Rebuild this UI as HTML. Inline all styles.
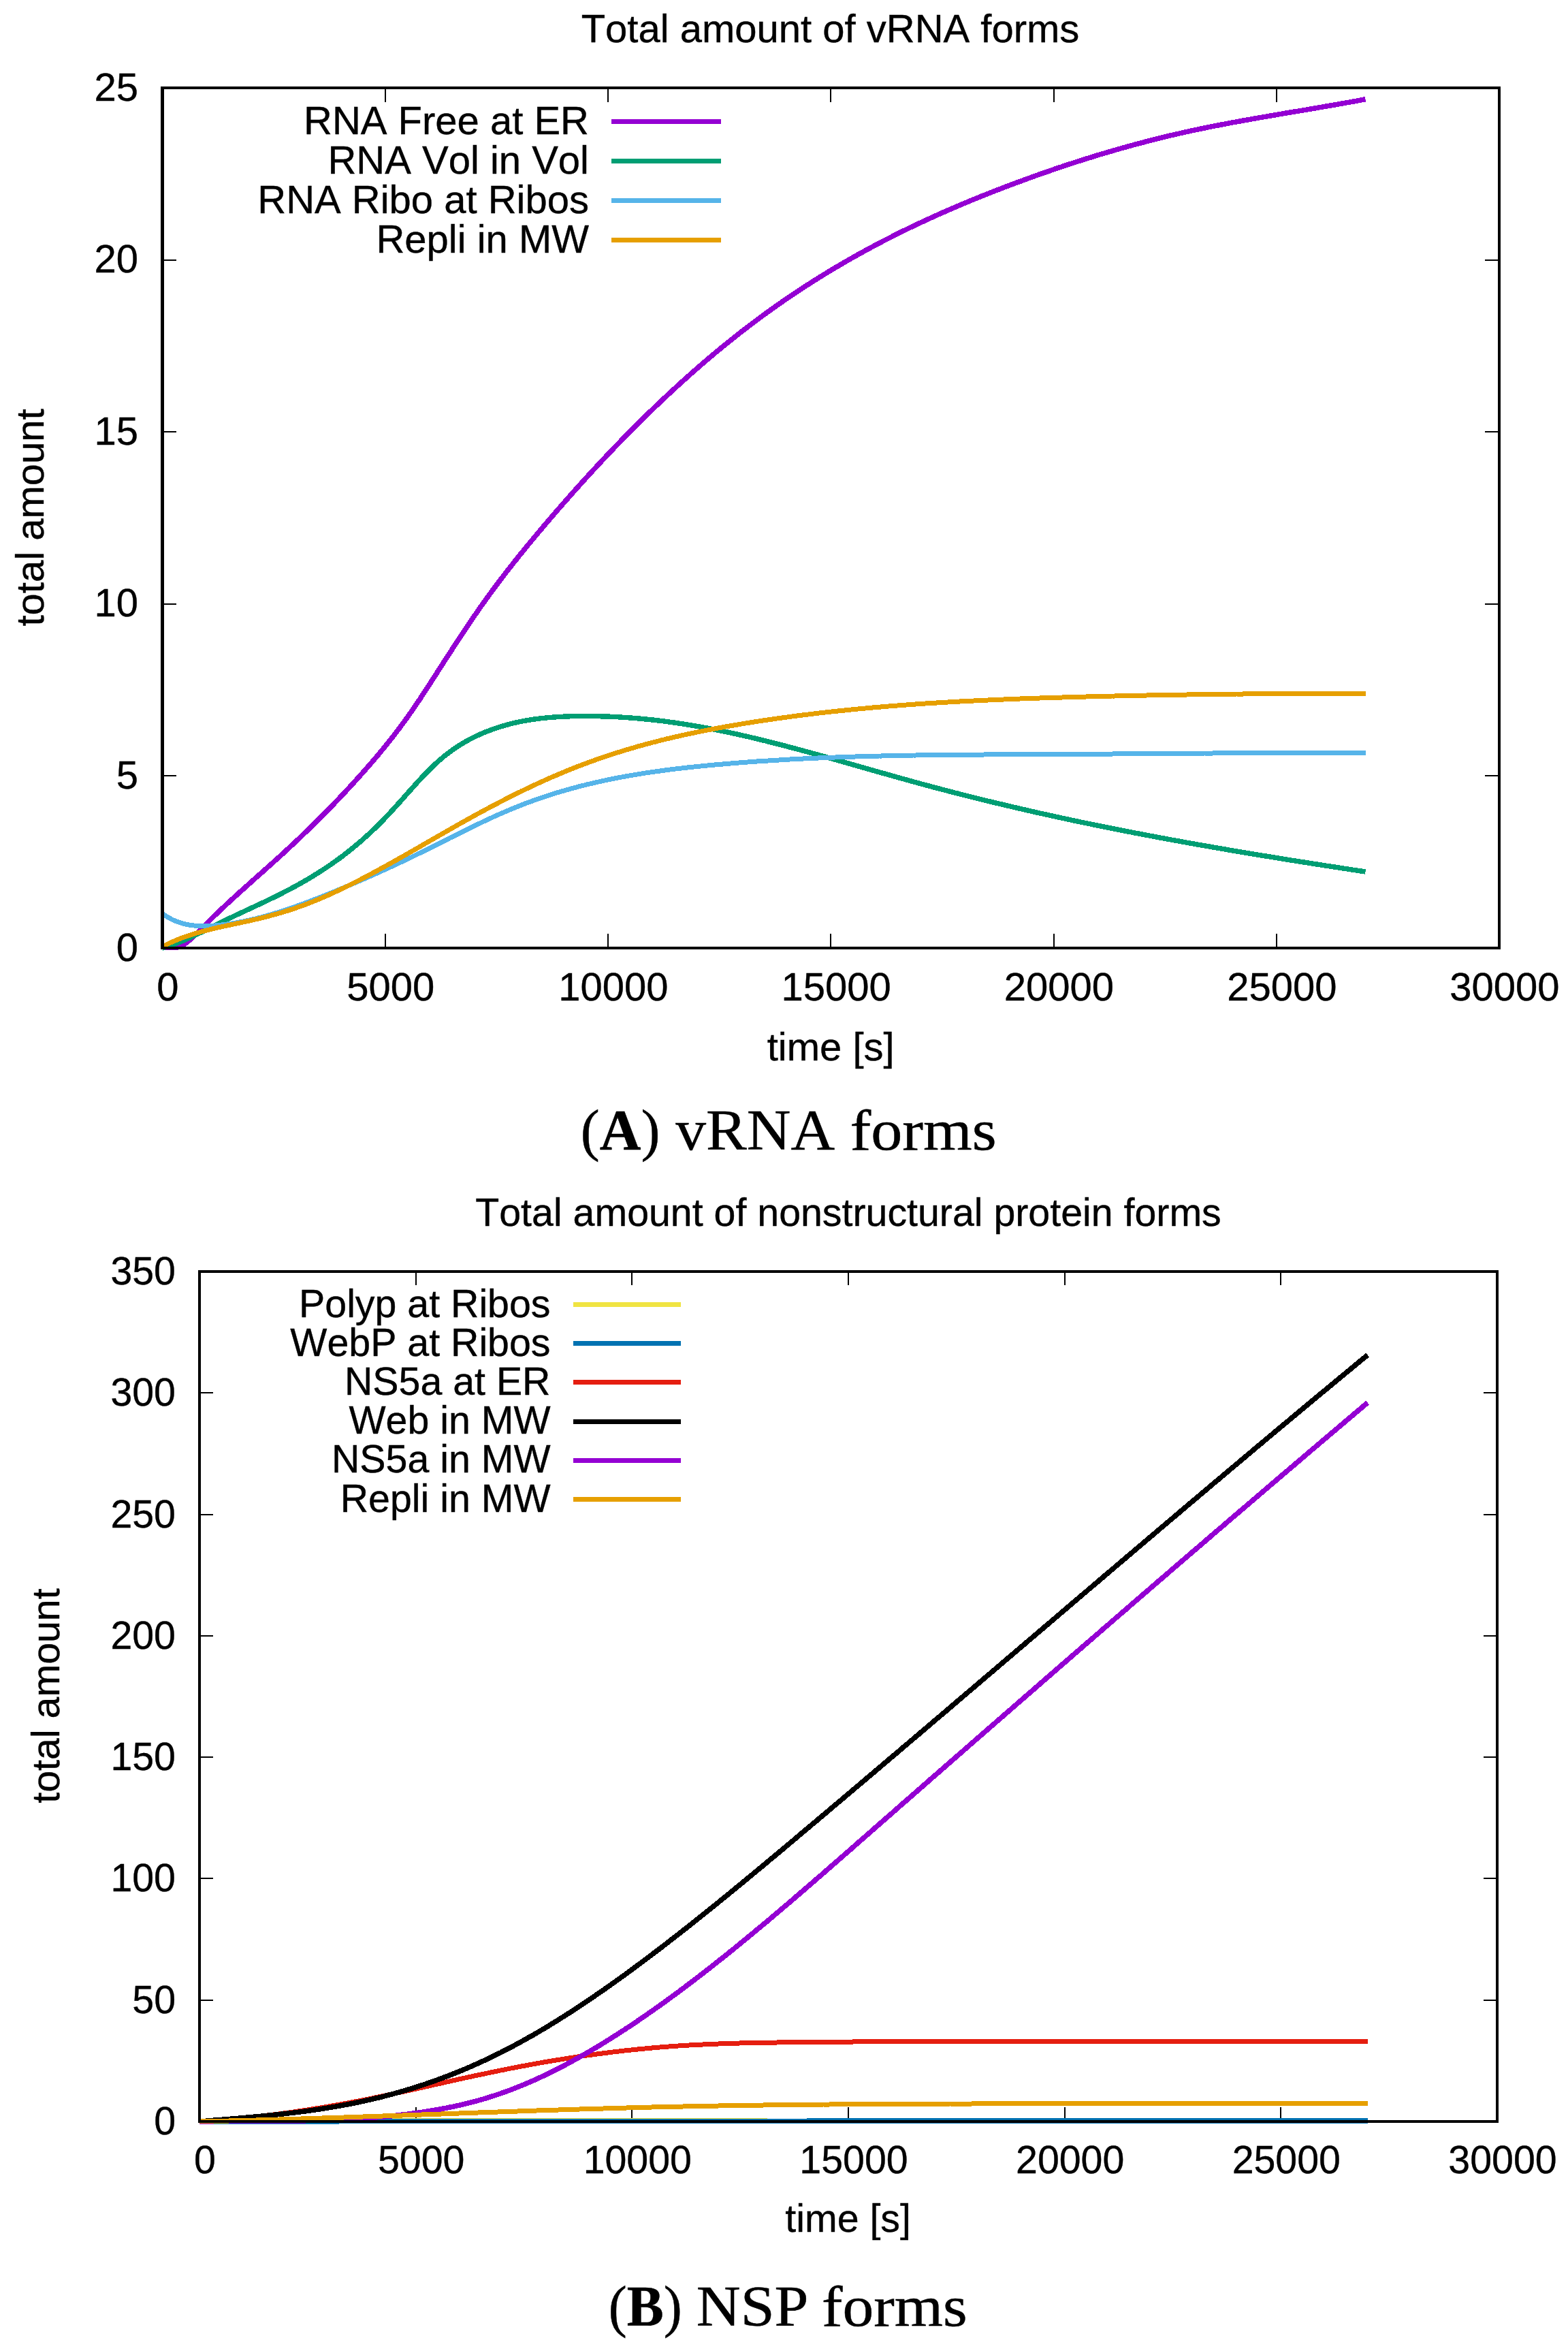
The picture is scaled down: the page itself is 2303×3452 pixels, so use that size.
<!DOCTYPE html>
<html lang="en"><head><meta charset="utf-8"><title>Total amount of vRNA and nonstructural protein forms</title>
<style>html,body{margin:0;padding:0;background:#fff}svg{display:block}text{font-family:"Liberation Sans",sans-serif;fill:#000;font-kerning:none;stroke:#000;stroke-width:.4px}.cap{font-family:"Liberation Serif",serif;font-kerning:none;stroke-width:.5px}.c{fill:none;stroke-linejoin:round;stroke-linecap:butt;shape-rendering:crispEdges}.t{stroke:#000;stroke-width:2;fill:none;shape-rendering:crispEdges}</style></head><body>
<svg width="2303" height="3452" viewBox="0 0 2303 3452">
<rect width="2303" height="3452" fill="#fff"/>
<g id="plotA">
<path class="t" d="M565.75,1392.0 V1371 M565.75,129.0 V150 M893.00,1392.0 V1371 M893.00,129.0 V150 M1220.25,1392.0 V1371 M1220.25,129.0 V150 M1547.50,1392.0 V1371 M1547.50,129.0 V150 M1874.75,1392.0 V1371 M1874.75,129.0 V150 M238.5,1139.40 H259 M2202.0,1139.40 H2181 M238.5,886.80 H259 M2202.0,886.80 H2181 M238.5,634.20 H259 M2202.0,634.20 H2181 M238.5,381.60 H259 M2202.0,381.60 H2181"/>
<path class="c" stroke="#9400D3" stroke-width="7.5" d="M238.5,1392.0 L241.4,1391.5 L244.4,1391.3 L247.3,1391.3 L250.3,1391.4 L253.2,1391.4 L256.2,1391.4 L259.1,1391.2 L262.1,1390.6 L265.0,1389.7 L268.0,1388.3 L270.9,1386.5 L273.9,1384.3 L276.8,1381.9 L279.8,1379.3 L282.7,1376.6 L285.7,1373.8 L288.6,1371.0 L291.6,1368.0 L294.5,1365.1 L297.5,1362.1 L300.4,1359.1 L303.4,1356.1 L306.3,1353.2 L309.3,1350.3 L312.2,1347.4 L315.2,1344.5 L318.1,1341.7 L321.1,1338.8 L324.0,1336.0 L327.0,1333.3 L329.9,1330.5 L332.9,1327.7 L335.8,1325.0 L338.8,1322.3 L341.7,1319.6 L344.7,1316.9 L347.6,1314.2 L350.6,1311.5 L353.5,1308.8 L356.5,1306.2 L359.4,1303.5 L362.4,1300.9 L365.3,1298.3 L368.3,1295.6 L371.2,1293.0 L374.2,1290.4 L377.1,1287.7 L380.1,1285.1 L383.0,1282.5 L386.0,1279.9 L388.9,1277.2 L391.9,1274.6 L394.8,1272.0 L397.8,1269.3 L400.7,1266.7 L403.7,1264.0 L406.6,1261.3 L409.6,1258.7 L412.5,1256.0 L415.5,1253.3 L418.4,1250.6 L421.4,1247.9 L424.3,1245.1 L427.3,1242.4 L430.2,1239.6 L433.2,1236.9 L436.1,1234.1 L439.1,1231.3 L442.0,1228.5 L445.0,1225.7 L447.9,1222.8 L450.9,1220.0 L453.8,1217.1 L456.8,1214.2 L459.7,1211.3 L462.7,1208.4 L465.6,1205.5 L468.6,1202.6 L471.5,1199.6 L474.5,1196.6 L477.4,1193.7 L480.4,1190.7 L483.3,1187.6 L486.3,1184.6 L489.2,1181.6 L492.2,1178.5 L495.1,1175.4 L498.1,1172.3 L501.0,1169.2 L504.0,1166.1 L506.9,1162.9 L509.9,1159.7 L512.8,1156.6 L515.8,1153.4 L518.7,1150.1 L521.7,1146.9 L524.6,1143.6 L527.6,1140.3 L530.5,1137.1 L533.5,1133.7 L536.4,1130.4 L539.4,1127.0 L542.3,1123.7 L545.3,1120.3 L548.2,1116.8 L551.2,1113.4 L554.1,1109.9 L557.1,1106.4 L560.0,1102.8 L563.0,1099.2 L565.9,1095.6 L568.9,1092.0 L571.8,1088.3 L574.8,1084.5 L577.7,1080.8 L580.7,1077.0 L583.6,1073.1 L586.6,1069.2 L589.5,1065.2 L592.5,1061.2 L595.4,1057.2 L598.4,1053.1 L601.3,1048.9 L604.3,1044.7 L607.2,1040.5 L610.2,1036.2 L613.1,1031.8 L616.1,1027.4 L619.0,1023.0 L622.0,1018.5 L624.9,1014.0 L627.9,1009.5 L630.8,1004.9 L633.8,1000.3 L636.7,995.8 L639.7,991.2 L642.6,986.6 L645.6,982.0 L648.5,977.4 L651.5,972.8 L654.4,968.3 L657.4,963.7 L660.3,959.1 L663.3,954.6 L666.2,950.1 L669.2,945.5 L672.1,941.0 L675.1,936.5 L678.0,932.1 L681.0,927.6 L683.9,923.2 L686.9,918.8 L689.8,914.4 L692.8,910.1 L695.7,905.8 L698.7,901.5 L701.6,897.2 L704.6,893.0 L707.5,888.8 L710.5,884.7 L713.4,880.6 L716.4,876.5 L719.3,872.4 L722.3,868.4 L725.2,864.4 L728.2,860.4 L731.1,856.5 L734.1,852.6 L737.0,848.7 L740.0,844.9 L742.9,841.0 L745.9,837.2 L748.8,833.5 L751.8,829.7 L754.7,826.0 L757.7,822.3 L760.6,818.6 L763.6,814.9 L766.5,811.3 L769.5,807.6 L772.4,804.0 L775.4,800.4 L778.3,796.8 L781.3,793.3 L784.2,789.7 L787.2,786.2 L790.1,782.7 L793.1,779.2 L796.0,775.7 L799.0,772.2 L801.9,768.7 L804.9,765.3 L807.8,761.8 L810.8,758.4 L813.7,754.9 L816.7,751.5 L819.6,748.1 L822.6,744.7 L825.5,741.3 L828.5,738.0 L831.4,734.6 L834.4,731.3 L837.3,727.9 L840.3,724.6 L843.2,721.3 L846.2,718.0 L849.1,714.7 L852.1,711.4 L855.0,708.2 L858.0,704.9 L860.9,701.7 L863.9,698.4 L866.8,695.2 L869.8,692.0 L872.7,688.8 L875.7,685.6 L878.6,682.4 L881.6,679.3 L884.5,676.1 L887.5,673.0 L890.4,669.9 L893.4,666.7 L896.3,663.6 L899.3,660.5 L902.2,657.5 L905.2,654.4 L908.1,651.3 L911.1,648.3 L914.0,645.2 L917.0,642.2 L919.9,639.2 L922.9,636.2 L925.8,633.2 L928.8,630.3 L931.7,627.3 L934.7,624.3 L937.6,621.4 L940.6,618.5 L943.5,615.6 L946.5,612.7 L949.4,609.8 L952.4,606.9 L955.3,604.0 L958.3,601.2 L961.2,598.3 L964.2,595.5 L967.1,592.7 L970.1,589.9 L973.0,587.1 L976.0,584.3 L978.9,581.5 L981.9,578.8 L984.8,576.0 L987.8,573.3 L990.7,570.6 L993.7,567.9 L996.6,565.2 L999.6,562.5 L1002.5,559.8 L1005.5,557.2 L1008.4,554.5 L1011.4,551.9 L1014.3,549.3 L1017.3,546.7 L1020.2,544.1 L1023.2,541.5 L1026.1,538.9 L1029.1,536.3 L1032.0,533.8 L1035.0,531.3 L1037.9,528.7 L1040.9,526.2 L1043.8,523.7 L1046.8,521.3 L1049.7,518.8 L1052.7,516.3 L1055.6,513.9 L1058.6,511.5 L1061.5,509.0 L1064.5,506.6 L1067.4,504.2 L1070.4,501.9 L1073.3,499.5 L1076.3,497.1 L1079.2,494.8 L1082.2,492.5 L1085.1,490.1 L1088.1,487.8 L1091.0,485.5 L1094.0,483.3 L1096.9,481.0 L1099.9,478.7 L1102.8,476.5 L1105.8,474.3 L1108.7,472.1 L1111.7,469.9 L1114.6,467.7 L1117.6,465.5 L1120.5,463.3 L1123.5,461.2 L1126.4,459.0 L1129.4,456.9 L1132.3,454.8 L1135.3,452.7 L1138.2,450.6 L1141.2,448.5 L1144.1,446.4 L1147.1,444.4 L1150.0,442.3 L1153.0,440.3 L1155.9,438.3 L1158.9,436.3 L1161.8,434.3 L1164.8,432.3 L1167.7,430.3 L1170.7,428.4 L1173.6,426.4 L1176.6,424.5 L1179.5,422.5 L1182.5,420.6 L1185.4,418.7 L1188.4,416.8 L1191.3,414.9 L1194.3,413.1 L1197.2,411.2 L1200.2,409.3 L1203.1,407.5 L1206.1,405.7 L1209.0,403.8 L1212.0,402.0 L1214.9,400.2 L1217.9,398.4 L1220.8,396.7 L1223.8,394.9 L1226.7,393.1 L1229.7,391.4 L1232.6,389.7 L1235.6,387.9 L1238.5,386.2 L1241.5,384.5 L1244.4,382.8 L1247.4,381.1 L1250.3,379.4 L1253.3,377.8 L1256.2,376.1 L1259.2,374.4 L1262.1,372.8 L1265.1,371.2 L1268.0,369.5 L1271.0,367.9 L1273.9,366.3 L1276.9,364.7 L1279.8,363.1 L1282.8,361.6 L1285.7,360.0 L1288.7,358.4 L1291.6,356.9 L1294.6,355.3 L1297.5,353.8 L1300.5,352.3 L1303.4,350.8 L1306.4,349.3 L1309.3,347.8 L1312.3,346.3 L1315.2,344.8 L1318.2,343.3 L1321.1,341.8 L1324.1,340.4 L1327.0,338.9 L1330.0,337.5 L1332.9,336.1 L1335.9,334.6 L1338.8,333.2 L1341.8,331.8 L1344.7,330.4 L1347.7,329.0 L1350.6,327.6 L1353.6,326.2 L1356.5,324.9 L1359.5,323.5 L1362.4,322.1 L1365.4,320.8 L1368.3,319.4 L1371.3,318.1 L1374.2,316.8 L1377.2,315.4 L1380.1,314.1 L1383.1,312.8 L1386.0,311.5 L1389.0,310.2 L1391.9,308.9 L1394.9,307.6 L1397.8,306.4 L1400.8,305.1 L1403.7,303.8 L1406.7,302.6 L1409.6,301.3 L1412.6,300.1 L1415.5,298.8 L1418.5,297.6 L1421.4,296.4 L1424.4,295.1 L1427.3,293.9 L1430.3,292.7 L1433.2,291.5 L1436.2,290.3 L1439.1,289.1 L1442.1,287.9 L1445.0,286.8 L1448.0,285.6 L1450.9,284.4 L1453.9,283.2 L1456.8,282.1 L1459.8,280.9 L1462.7,279.8 L1465.7,278.6 L1468.6,277.5 L1471.6,276.4 L1474.5,275.2 L1477.5,274.1 L1480.4,273.0 L1483.4,271.9 L1486.3,270.8 L1489.3,269.7 L1492.2,268.6 L1495.2,267.5 L1498.1,266.4 L1501.1,265.3 L1504.0,264.2 L1507.0,263.1 L1509.9,262.0 L1512.9,261.0 L1515.8,259.9 L1518.8,258.9 L1521.7,257.8 L1524.7,256.8 L1527.6,255.7 L1530.6,254.7 L1533.5,253.6 L1536.5,252.6 L1539.4,251.6 L1542.4,250.6 L1545.3,249.6 L1548.3,248.5 L1551.2,247.5 L1554.2,246.5 L1557.1,245.6 L1560.1,244.6 L1563.0,243.6 L1566.0,242.6 L1568.9,241.6 L1571.9,240.7 L1574.8,239.7 L1577.8,238.7 L1580.7,237.8 L1583.7,236.8 L1586.6,235.9 L1589.6,235.0 L1592.5,234.0 L1595.5,233.1 L1598.4,232.2 L1601.4,231.3 L1604.3,230.3 L1607.3,229.4 L1610.2,228.5 L1613.2,227.6 L1616.1,226.7 L1619.1,225.9 L1622.0,225.0 L1625.0,224.1 L1627.9,223.2 L1630.9,222.4 L1633.8,221.5 L1636.8,220.7 L1639.7,219.8 L1642.7,219.0 L1645.6,218.1 L1648.6,217.3 L1651.5,216.5 L1654.5,215.6 L1657.4,214.8 L1660.4,214.0 L1663.3,213.2 L1666.3,212.4 L1669.2,211.6 L1672.2,210.8 L1675.1,210.0 L1678.1,209.3 L1681.0,208.5 L1684.0,207.7 L1686.9,207.0 L1689.9,206.2 L1692.8,205.4 L1695.8,204.7 L1698.7,204.0 L1701.7,203.2 L1704.6,202.5 L1707.6,201.8 L1710.5,201.1 L1713.5,200.3 L1716.4,199.6 L1719.4,198.9 L1722.3,198.2 L1725.3,197.6 L1728.2,196.9 L1731.2,196.2 L1734.1,195.5 L1737.1,194.9 L1740.0,194.2 L1743.0,193.5 L1745.9,192.9 L1748.9,192.2 L1751.8,191.6 L1754.8,191.0 L1757.7,190.3 L1760.7,189.7 L1763.6,189.1 L1766.6,188.5 L1769.5,187.9 L1772.5,187.3 L1775.4,186.7 L1778.4,186.1 L1781.3,185.5 L1784.3,184.9 L1787.2,184.3 L1790.2,183.8 L1793.1,183.2 L1796.1,182.6 L1799.0,182.1 L1802.0,181.5 L1804.9,180.9 L1807.9,180.4 L1810.8,179.8 L1813.8,179.3 L1816.7,178.7 L1819.7,178.2 L1822.6,177.7 L1825.6,177.1 L1828.5,176.6 L1831.5,176.1 L1834.4,175.5 L1837.4,175.0 L1840.3,174.5 L1843.3,174.0 L1846.2,173.4 L1849.2,172.9 L1852.1,172.4 L1855.1,171.9 L1858.0,171.4 L1861.0,170.9 L1863.9,170.4 L1866.9,169.9 L1869.8,169.4 L1872.8,168.9 L1875.7,168.3 L1878.7,167.8 L1881.6,167.3 L1884.6,166.8 L1887.5,166.3 L1890.5,165.8 L1893.4,165.3 L1896.4,164.8 L1899.3,164.3 L1902.3,163.8 L1905.2,163.4 L1908.2,162.9 L1911.1,162.4 L1914.1,161.9 L1917.0,161.4 L1920.0,160.9 L1922.9,160.4 L1925.9,159.9 L1928.8,159.4 L1931.8,158.9 L1934.7,158.3 L1937.7,157.8 L1940.6,157.3 L1943.6,156.8 L1946.5,156.3 L1949.5,155.8 L1952.4,155.3 L1955.4,154.8 L1958.3,154.3 L1961.3,153.8 L1964.2,153.2 L1967.2,152.7 L1970.1,152.2 L1973.1,151.7 L1976.0,151.1 L1979.0,150.6 L1981.9,150.1 L1984.9,149.5 L1987.8,149.0 L1990.8,148.5 L1993.7,147.9 L1996.7,147.4 L1999.6,146.8 L2002.6,146.3 L2005.5,145.7"/>
<path class="c" stroke="#009E73" stroke-width="7.4" d="M238.5,1392.0 L241.4,1391.2 L244.4,1390.3 L247.3,1389.3 L250.3,1388.3 L253.2,1387.3 L256.2,1386.2 L259.1,1385.1 L262.1,1384.0 L265.0,1382.8 L268.0,1381.6 L270.9,1380.3 L273.9,1379.0 L276.8,1377.7 L279.8,1376.4 L282.7,1375.0 L285.7,1373.6 L288.6,1372.2 L291.6,1370.8 L294.5,1369.4 L297.5,1368.0 L300.4,1366.5 L303.4,1365.0 L306.3,1363.6 L309.3,1362.1 L312.2,1360.6 L315.2,1359.1 L318.1,1357.7 L321.1,1356.2 L324.0,1354.7 L327.0,1353.3 L329.9,1351.8 L332.9,1350.4 L335.8,1348.9 L338.8,1347.5 L341.7,1346.1 L344.7,1344.7 L347.6,1343.3 L350.6,1341.9 L353.5,1340.5 L356.5,1339.2 L359.4,1337.8 L362.4,1336.4 L365.3,1335.0 L368.3,1333.7 L371.2,1332.3 L374.2,1330.9 L377.1,1329.5 L380.1,1328.2 L383.0,1326.8 L386.0,1325.4 L388.9,1324.0 L391.9,1322.6 L394.8,1321.2 L397.8,1319.7 L400.7,1318.3 L403.7,1316.9 L406.6,1315.4 L409.6,1313.9 L412.5,1312.4 L415.5,1310.9 L418.4,1309.4 L421.4,1307.9 L424.3,1306.4 L427.3,1304.8 L430.2,1303.2 L433.2,1301.6 L436.1,1300.0 L439.1,1298.4 L442.0,1296.7 L445.0,1295.0 L447.9,1293.3 L450.9,1291.6 L453.8,1289.9 L456.8,1288.1 L459.7,1286.3 L462.7,1284.5 L465.6,1282.7 L468.6,1280.8 L471.5,1278.9 L474.5,1277.0 L477.4,1275.1 L480.4,1273.1 L483.3,1271.1 L486.3,1269.1 L489.2,1267.0 L492.2,1264.9 L495.1,1262.8 L498.1,1260.7 L501.0,1258.5 L504.0,1256.3 L506.9,1254.0 L509.9,1251.7 L512.8,1249.4 L515.8,1247.0 L518.7,1244.6 L521.7,1242.2 L524.6,1239.7 L527.6,1237.2 L530.5,1234.7 L533.5,1232.1 L536.4,1229.4 L539.4,1226.8 L542.3,1224.1 L545.3,1221.3 L548.2,1218.5 L551.2,1215.7 L554.1,1212.8 L557.1,1209.9 L560.0,1206.9 L563.0,1203.9 L565.9,1200.8 L568.9,1197.7 L571.8,1194.6 L574.8,1191.4 L577.7,1188.2 L580.7,1184.9 L583.6,1181.7 L586.6,1178.4 L589.5,1175.1 L592.5,1171.8 L595.4,1168.4 L598.4,1165.1 L601.3,1161.8 L604.3,1158.5 L607.2,1155.2 L610.2,1151.9 L613.1,1148.6 L616.1,1145.4 L619.0,1142.2 L622.0,1139.1 L624.9,1136.0 L627.9,1133.0 L630.8,1130.0 L633.8,1127.1 L636.7,1124.2 L639.7,1121.5 L642.6,1118.8 L645.6,1116.2 L648.5,1113.7 L651.5,1111.2 L654.4,1108.8 L657.4,1106.5 L660.3,1104.3 L663.3,1102.1 L666.2,1100.1 L669.2,1098.0 L672.1,1096.1 L675.1,1094.2 L678.0,1092.3 L681.0,1090.6 L683.9,1088.9 L686.9,1087.2 L689.8,1085.6 L692.8,1084.1 L695.7,1082.6 L698.7,1081.1 L701.6,1079.8 L704.6,1078.4 L707.5,1077.1 L710.5,1075.9 L713.4,1074.7 L716.4,1073.5 L719.3,1072.4 L722.3,1071.3 L725.2,1070.2 L728.2,1069.2 L731.1,1068.2 L734.1,1067.3 L737.0,1066.4 L740.0,1065.5 L742.9,1064.7 L745.9,1063.9 L748.8,1063.1 L751.8,1062.3 L754.7,1061.6 L757.7,1060.9 L760.6,1060.3 L763.6,1059.7 L766.5,1059.1 L769.5,1058.5 L772.4,1058.0 L775.4,1057.5 L778.3,1057.0 L781.3,1056.5 L784.2,1056.1 L787.2,1055.7 L790.1,1055.3 L793.1,1054.9 L796.0,1054.6 L799.0,1054.3 L801.9,1054.0 L804.9,1053.7 L807.8,1053.4 L810.8,1053.2 L813.7,1053.0 L816.7,1052.8 L819.6,1052.6 L822.6,1052.4 L825.5,1052.3 L828.5,1052.1 L831.4,1052.0 L834.4,1051.9 L837.3,1051.8 L840.3,1051.7 L843.2,1051.6 L846.2,1051.6 L849.1,1051.6 L852.1,1051.5 L855.0,1051.5 L858.0,1051.5 L860.9,1051.5 L863.9,1051.5 L866.8,1051.5 L869.8,1051.5 L872.7,1051.6 L875.7,1051.6 L878.6,1051.7 L881.6,1051.8 L884.5,1051.8 L887.5,1051.9 L890.4,1052.0 L893.4,1052.1 L896.3,1052.2 L899.3,1052.4 L902.2,1052.5 L905.2,1052.7 L908.1,1052.8 L911.1,1053.0 L914.0,1053.2 L917.0,1053.4 L919.9,1053.6 L922.9,1053.8 L925.8,1054.0 L928.8,1054.2 L931.7,1054.4 L934.7,1054.7 L937.6,1054.9 L940.6,1055.2 L943.5,1055.5 L946.5,1055.8 L949.4,1056.1 L952.4,1056.4 L955.3,1056.7 L958.3,1057.0 L961.2,1057.3 L964.2,1057.7 L967.1,1058.0 L970.1,1058.4 L973.0,1058.7 L976.0,1059.1 L978.9,1059.5 L981.9,1059.9 L984.8,1060.3 L987.8,1060.7 L990.7,1061.1 L993.7,1061.5 L996.6,1062.0 L999.6,1062.4 L1002.5,1062.9 L1005.5,1063.3 L1008.4,1063.8 L1011.4,1064.3 L1014.3,1064.8 L1017.3,1065.3 L1020.2,1065.8 L1023.2,1066.3 L1026.1,1066.8 L1029.1,1067.3 L1032.0,1067.8 L1035.0,1068.4 L1037.9,1068.9 L1040.9,1069.5 L1043.8,1070.1 L1046.8,1070.6 L1049.7,1071.2 L1052.7,1071.8 L1055.6,1072.4 L1058.6,1073.0 L1061.5,1073.6 L1064.5,1074.2 L1067.4,1074.8 L1070.4,1075.5 L1073.3,1076.1 L1076.3,1076.7 L1079.2,1077.4 L1082.2,1078.0 L1085.1,1078.7 L1088.1,1079.3 L1091.0,1080.0 L1094.0,1080.7 L1096.9,1081.4 L1099.9,1082.0 L1102.8,1082.7 L1105.8,1083.4 L1108.7,1084.1 L1111.7,1084.8 L1114.6,1085.6 L1117.6,1086.3 L1120.5,1087.0 L1123.5,1087.7 L1126.4,1088.4 L1129.4,1089.2 L1132.3,1089.9 L1135.3,1090.7 L1138.2,1091.4 L1141.2,1092.2 L1144.1,1092.9 L1147.1,1093.7 L1150.0,1094.4 L1153.0,1095.2 L1155.9,1096.0 L1158.9,1096.8 L1161.8,1097.5 L1164.8,1098.3 L1167.7,1099.1 L1170.7,1099.9 L1173.6,1100.7 L1176.6,1101.5 L1179.5,1102.3 L1182.5,1103.1 L1185.4,1103.9 L1188.4,1104.7 L1191.3,1105.5 L1194.3,1106.3 L1197.2,1107.1 L1200.2,1107.9 L1203.1,1108.8 L1206.1,1109.6 L1209.0,1110.4 L1212.0,1111.2 L1214.9,1112.0 L1217.9,1112.9 L1220.8,1113.7 L1223.8,1114.5 L1226.7,1115.4 L1229.7,1116.2 L1232.6,1117.0 L1235.6,1117.9 L1238.5,1118.7 L1241.5,1119.5 L1244.4,1120.4 L1247.4,1121.2 L1250.3,1122.1 L1253.3,1122.9 L1256.2,1123.7 L1259.2,1124.6 L1262.1,1125.4 L1265.1,1126.3 L1268.0,1127.1 L1271.0,1128.0 L1273.9,1128.8 L1276.9,1129.6 L1279.8,1130.5 L1282.8,1131.3 L1285.7,1132.2 L1288.7,1133.0 L1291.6,1133.8 L1294.6,1134.7 L1297.5,1135.5 L1300.5,1136.3 L1303.4,1137.2 L1306.4,1138.0 L1309.3,1138.8 L1312.3,1139.7 L1315.2,1140.5 L1318.2,1141.3 L1321.1,1142.2 L1324.1,1143.0 L1327.0,1143.8 L1330.0,1144.6 L1332.9,1145.5 L1335.9,1146.3 L1338.8,1147.1 L1341.8,1147.9 L1344.7,1148.7 L1347.7,1149.5 L1350.6,1150.3 L1353.6,1151.1 L1356.5,1151.9 L1359.5,1152.7 L1362.4,1153.5 L1365.4,1154.3 L1368.3,1155.1 L1371.3,1155.9 L1374.2,1156.7 L1377.2,1157.4 L1380.1,1158.2 L1383.1,1159.0 L1386.0,1159.8 L1389.0,1160.5 L1391.9,1161.3 L1394.9,1162.1 L1397.8,1162.8 L1400.8,1163.6 L1403.7,1164.4 L1406.7,1165.1 L1409.6,1165.9 L1412.6,1166.6 L1415.5,1167.4 L1418.5,1168.1 L1421.4,1168.9 L1424.4,1169.6 L1427.3,1170.3 L1430.3,1171.1 L1433.2,1171.8 L1436.2,1172.5 L1439.1,1173.3 L1442.1,1174.0 L1445.0,1174.7 L1448.0,1175.5 L1450.9,1176.2 L1453.9,1176.9 L1456.8,1177.6 L1459.8,1178.3 L1462.7,1179.0 L1465.7,1179.7 L1468.6,1180.4 L1471.6,1181.1 L1474.5,1181.8 L1477.5,1182.5 L1480.4,1183.2 L1483.4,1183.9 L1486.3,1184.6 L1489.3,1185.3 L1492.2,1186.0 L1495.2,1186.7 L1498.1,1187.4 L1501.1,1188.0 L1504.0,1188.7 L1507.0,1189.4 L1509.9,1190.1 L1512.9,1190.7 L1515.8,1191.4 L1518.8,1192.1 L1521.7,1192.8 L1524.7,1193.4 L1527.6,1194.1 L1530.6,1194.7 L1533.5,1195.4 L1536.5,1196.0 L1539.4,1196.7 L1542.4,1197.3 L1545.3,1198.0 L1548.3,1198.6 L1551.2,1199.3 L1554.2,1199.9 L1557.1,1200.6 L1560.1,1201.2 L1563.0,1201.8 L1566.0,1202.5 L1568.9,1203.1 L1571.9,1203.7 L1574.8,1204.4 L1577.8,1205.0 L1580.7,1205.6 L1583.7,1206.2 L1586.6,1206.9 L1589.6,1207.5 L1592.5,1208.1 L1595.5,1208.7 L1598.4,1209.3 L1601.4,1209.9 L1604.3,1210.5 L1607.3,1211.1 L1610.2,1211.7 L1613.2,1212.3 L1616.1,1212.9 L1619.1,1213.5 L1622.0,1214.1 L1625.0,1214.7 L1627.9,1215.3 L1630.9,1215.9 L1633.8,1216.5 L1636.8,1217.1 L1639.7,1217.7 L1642.7,1218.3 L1645.6,1218.9 L1648.6,1219.4 L1651.5,1220.0 L1654.5,1220.6 L1657.4,1221.2 L1660.4,1221.7 L1663.3,1222.3 L1666.3,1222.9 L1669.2,1223.5 L1672.2,1224.0 L1675.1,1224.6 L1678.1,1225.1 L1681.0,1225.7 L1684.0,1226.3 L1686.9,1226.8 L1689.9,1227.4 L1692.8,1227.9 L1695.8,1228.5 L1698.7,1229.1 L1701.7,1229.6 L1704.6,1230.2 L1707.6,1230.7 L1710.5,1231.2 L1713.5,1231.8 L1716.4,1232.3 L1719.4,1232.9 L1722.3,1233.4 L1725.3,1234.0 L1728.2,1234.5 L1731.2,1235.0 L1734.1,1235.6 L1737.1,1236.1 L1740.0,1236.6 L1743.0,1237.2 L1745.9,1237.7 L1748.9,1238.2 L1751.8,1238.7 L1754.8,1239.3 L1757.7,1239.8 L1760.7,1240.3 L1763.6,1240.8 L1766.6,1241.4 L1769.5,1241.9 L1772.5,1242.4 L1775.4,1242.9 L1778.4,1243.4 L1781.3,1243.9 L1784.3,1244.4 L1787.2,1245.0 L1790.2,1245.5 L1793.1,1246.0 L1796.1,1246.5 L1799.0,1247.0 L1802.0,1247.5 L1804.9,1248.0 L1807.9,1248.5 L1810.8,1249.0 L1813.8,1249.5 L1816.7,1250.0 L1819.7,1250.5 L1822.6,1251.0 L1825.6,1251.5 L1828.5,1252.0 L1831.5,1252.5 L1834.4,1253.0 L1837.4,1253.5 L1840.3,1253.9 L1843.3,1254.4 L1846.2,1254.9 L1849.2,1255.4 L1852.1,1255.9 L1855.1,1256.4 L1858.0,1256.9 L1861.0,1257.3 L1863.9,1257.8 L1866.9,1258.3 L1869.8,1258.8 L1872.8,1259.3 L1875.7,1259.7 L1878.7,1260.2 L1881.6,1260.7 L1884.6,1261.2 L1887.5,1261.7 L1890.5,1262.1 L1893.4,1262.6 L1896.4,1263.1 L1899.3,1263.5 L1902.3,1264.0 L1905.2,1264.5 L1908.2,1264.9 L1911.1,1265.4 L1914.1,1265.9 L1917.0,1266.3 L1920.0,1266.8 L1922.9,1267.3 L1925.9,1267.7 L1928.8,1268.2 L1931.8,1268.7 L1934.7,1269.1 L1937.7,1269.6 L1940.6,1270.0 L1943.6,1270.5 L1946.5,1271.0 L1949.5,1271.4 L1952.4,1271.9 L1955.4,1272.3 L1958.3,1272.8 L1961.3,1273.2 L1964.2,1273.7 L1967.2,1274.2 L1970.1,1274.6 L1973.1,1275.1 L1976.0,1275.5 L1979.0,1276.0 L1981.9,1276.4 L1984.9,1276.9 L1987.8,1277.3 L1990.8,1277.8 L1993.7,1278.2 L1996.7,1278.7 L1999.6,1279.1 L2002.6,1279.6 L2005.5,1280.0"/>
<path class="c" stroke="#56B4E9" stroke-width="7" d="M238.5,1341.5 L241.4,1343.6 L244.4,1345.5 L247.3,1347.2 L250.3,1348.8 L253.2,1350.3 L256.2,1351.7 L259.1,1352.9 L262.1,1354.0 L265.0,1355.0 L268.0,1355.9 L270.9,1356.7 L273.9,1357.4 L276.8,1357.9 L279.8,1358.4 L282.7,1358.8 L285.7,1359.1 L288.6,1359.4 L291.6,1359.6 L294.5,1359.7 L297.5,1359.7 L300.4,1359.7 L303.4,1359.6 L306.3,1359.5 L309.3,1359.4 L312.2,1359.2 L315.2,1359.0 L318.1,1358.7 L321.1,1358.4 L324.0,1358.1 L327.0,1357.8 L329.9,1357.4 L332.9,1357.1 L335.8,1356.6 L338.8,1356.2 L341.7,1355.8 L344.7,1355.3 L347.6,1354.8 L350.6,1354.2 L353.5,1353.7 L356.5,1353.1 L359.4,1352.5 L362.4,1351.9 L365.3,1351.2 L368.3,1350.6 L371.2,1349.9 L374.2,1349.2 L377.1,1348.5 L380.1,1347.7 L383.0,1347.0 L386.0,1346.2 L388.9,1345.4 L391.9,1344.5 L394.8,1343.7 L397.8,1342.9 L400.7,1342.0 L403.7,1341.1 L406.6,1340.2 L409.6,1339.3 L412.5,1338.3 L415.5,1337.4 L418.4,1336.4 L421.4,1335.4 L424.3,1334.4 L427.3,1333.4 L430.2,1332.4 L433.2,1331.4 L436.1,1330.3 L439.1,1329.3 L442.0,1328.2 L445.0,1327.1 L447.9,1326.0 L450.9,1324.9 L453.8,1323.8 L456.8,1322.7 L459.7,1321.6 L462.7,1320.4 L465.6,1319.3 L468.6,1318.1 L471.5,1317.0 L474.5,1315.8 L477.4,1314.6 L480.4,1313.4 L483.3,1312.2 L486.3,1311.0 L489.2,1309.8 L492.2,1308.6 L495.1,1307.4 L498.1,1306.2 L501.0,1304.9 L504.0,1303.7 L506.9,1302.5 L509.9,1301.2 L512.8,1300.0 L515.8,1298.7 L518.7,1297.4 L521.7,1296.2 L524.6,1294.9 L527.6,1293.6 L530.5,1292.3 L533.5,1291.0 L536.4,1289.8 L539.4,1288.5 L542.3,1287.1 L545.3,1285.8 L548.2,1284.5 L551.2,1283.2 L554.1,1281.9 L557.1,1280.5 L560.0,1279.2 L563.0,1277.9 L565.9,1276.5 L568.9,1275.2 L571.8,1273.8 L574.8,1272.5 L577.7,1271.1 L580.7,1269.7 L583.6,1268.4 L586.6,1267.0 L589.5,1265.6 L592.5,1264.2 L595.4,1262.8 L598.4,1261.4 L601.3,1260.0 L604.3,1258.6 L607.2,1257.2 L610.2,1255.7 L613.1,1254.3 L616.1,1252.8 L619.0,1251.4 L622.0,1249.9 L624.9,1248.5 L627.9,1247.0 L630.8,1245.5 L633.8,1244.1 L636.7,1242.6 L639.7,1241.1 L642.6,1239.6 L645.6,1238.1 L648.5,1236.7 L651.5,1235.2 L654.4,1233.7 L657.4,1232.2 L660.3,1230.7 L663.3,1229.2 L666.2,1227.8 L669.2,1226.3 L672.1,1224.8 L675.1,1223.3 L678.0,1221.9 L681.0,1220.4 L683.9,1218.9 L686.9,1217.5 L689.8,1216.0 L692.8,1214.6 L695.7,1213.2 L698.7,1211.7 L701.6,1210.3 L704.6,1208.9 L707.5,1207.5 L710.5,1206.1 L713.4,1204.7 L716.4,1203.3 L719.3,1201.9 L722.3,1200.6 L725.2,1199.2 L728.2,1197.9 L731.1,1196.6 L734.1,1195.3 L737.0,1194.0 L740.0,1192.7 L742.9,1191.4 L745.9,1190.2 L748.8,1188.9 L751.8,1187.7 L754.7,1186.5 L757.7,1185.3 L760.6,1184.1 L763.6,1182.9 L766.5,1181.8 L769.5,1180.7 L772.4,1179.5 L775.4,1178.4 L778.3,1177.4 L781.3,1176.3 L784.2,1175.2 L787.2,1174.2 L790.1,1173.1 L793.1,1172.1 L796.0,1171.1 L799.0,1170.1 L801.9,1169.1 L804.9,1168.2 L807.8,1167.2 L810.8,1166.3 L813.7,1165.4 L816.7,1164.4 L819.6,1163.5 L822.6,1162.7 L825.5,1161.8 L828.5,1160.9 L831.4,1160.1 L834.4,1159.2 L837.3,1158.4 L840.3,1157.6 L843.2,1156.8 L846.2,1156.0 L849.1,1155.2 L852.1,1154.5 L855.0,1153.7 L858.0,1153.0 L860.9,1152.2 L863.9,1151.5 L866.8,1150.8 L869.8,1150.1 L872.7,1149.4 L875.7,1148.7 L878.6,1148.1 L881.6,1147.4 L884.5,1146.8 L887.5,1146.1 L890.4,1145.5 L893.4,1144.9 L896.3,1144.3 L899.3,1143.7 L902.2,1143.1 L905.2,1142.5 L908.1,1141.9 L911.1,1141.4 L914.0,1140.8 L917.0,1140.3 L919.9,1139.7 L922.9,1139.2 L925.8,1138.7 L928.8,1138.2 L931.7,1137.7 L934.7,1137.2 L937.6,1136.7 L940.6,1136.2 L943.5,1135.8 L946.5,1135.3 L949.4,1134.8 L952.4,1134.4 L955.3,1134.0 L958.3,1133.5 L961.2,1133.1 L964.2,1132.7 L967.1,1132.3 L970.1,1131.9 L973.0,1131.5 L976.0,1131.1 L978.9,1130.7 L981.9,1130.3 L984.8,1129.9 L987.8,1129.6 L990.7,1129.2 L993.7,1128.8 L996.6,1128.5 L999.6,1128.2 L1002.5,1127.8 L1005.5,1127.5 L1008.4,1127.1 L1011.4,1126.8 L1014.3,1126.5 L1017.3,1126.2 L1020.2,1125.9 L1023.2,1125.6 L1026.1,1125.3 L1029.1,1125.0 L1032.0,1124.7 L1035.0,1124.4 L1037.9,1124.1 L1040.9,1123.8 L1043.8,1123.5 L1046.8,1123.3 L1049.7,1123.0 L1052.7,1122.7 L1055.6,1122.5 L1058.6,1122.2 L1061.5,1122.0 L1064.5,1121.7 L1067.4,1121.4 L1070.4,1121.2 L1073.3,1121.0 L1076.3,1120.7 L1079.2,1120.5 L1082.2,1120.2 L1085.1,1120.0 L1088.1,1119.8 L1091.0,1119.5 L1094.0,1119.3 L1096.9,1119.1 L1099.9,1118.9 L1102.8,1118.7 L1105.8,1118.5 L1108.7,1118.2 L1111.7,1118.0 L1114.6,1117.8 L1117.6,1117.6 L1120.5,1117.4 L1123.5,1117.2 L1126.4,1117.1 L1129.4,1116.9 L1132.3,1116.7 L1135.3,1116.5 L1138.2,1116.3 L1141.2,1116.1 L1144.1,1116.0 L1147.1,1115.8 L1150.0,1115.6 L1153.0,1115.4 L1155.9,1115.3 L1158.9,1115.1 L1161.8,1114.9 L1164.8,1114.8 L1167.7,1114.6 L1170.7,1114.5 L1173.6,1114.3 L1176.6,1114.2 L1179.5,1114.0 L1182.5,1113.9 L1185.4,1113.7 L1188.4,1113.6 L1191.3,1113.5 L1194.3,1113.3 L1197.2,1113.2 L1200.2,1113.1 L1203.1,1112.9 L1206.1,1112.8 L1209.0,1112.7 L1212.0,1112.6 L1214.9,1112.5 L1217.9,1112.3 L1220.8,1112.2 L1223.8,1112.1 L1226.7,1112.0 L1229.7,1111.9 L1232.6,1111.8 L1235.6,1111.7 L1238.5,1111.6 L1241.5,1111.5 L1244.4,1111.4 L1247.4,1111.3 L1250.3,1111.2 L1253.3,1111.1 L1256.2,1111.0 L1259.2,1110.9 L1262.1,1110.8 L1265.1,1110.7 L1268.0,1110.6 L1271.0,1110.6 L1273.9,1110.5 L1276.9,1110.4 L1279.8,1110.3 L1282.8,1110.2 L1285.7,1110.2 L1288.7,1110.1 L1291.6,1110.0 L1294.6,1110.0 L1297.5,1109.9 L1300.5,1109.8 L1303.4,1109.8 L1306.4,1109.7 L1309.3,1109.6 L1312.3,1109.6 L1315.2,1109.5 L1318.2,1109.4 L1321.1,1109.4 L1324.1,1109.3 L1327.0,1109.3 L1330.0,1109.2 L1332.9,1109.2 L1335.9,1109.1 L1338.8,1109.1 L1341.8,1109.0 L1344.7,1109.0 L1347.7,1108.9 L1350.6,1108.9 L1353.6,1108.8 L1356.5,1108.8 L1359.5,1108.8 L1362.4,1108.7 L1365.4,1108.7 L1368.3,1108.6 L1371.3,1108.6 L1374.2,1108.6 L1377.2,1108.5 L1380.1,1108.5 L1383.1,1108.5 L1386.0,1108.4 L1389.0,1108.4 L1391.9,1108.4 L1394.9,1108.3 L1397.8,1108.3 L1400.8,1108.3 L1403.7,1108.3 L1406.7,1108.2 L1409.6,1108.2 L1412.6,1108.2 L1415.5,1108.2 L1418.5,1108.1 L1421.4,1108.1 L1424.4,1108.1 L1427.3,1108.1 L1430.3,1108.1 L1433.2,1108.0 L1436.2,1108.0 L1439.1,1108.0 L1442.1,1108.0 L1445.0,1108.0 L1448.0,1107.9 L1450.9,1107.9 L1453.9,1107.9 L1456.8,1107.9 L1459.8,1107.9 L1462.7,1107.9 L1465.7,1107.8 L1468.6,1107.8 L1471.6,1107.8 L1474.5,1107.8 L1477.5,1107.8 L1480.4,1107.8 L1483.4,1107.8 L1486.3,1107.7 L1489.3,1107.7 L1492.2,1107.7 L1495.2,1107.7 L1498.1,1107.7 L1501.1,1107.7 L1504.0,1107.7 L1507.0,1107.7 L1509.9,1107.6 L1512.9,1107.6 L1515.8,1107.6 L1518.8,1107.6 L1521.7,1107.6 L1524.7,1107.6 L1527.6,1107.6 L1530.6,1107.5 L1533.5,1107.5 L1536.5,1107.5 L1539.4,1107.5 L1542.4,1107.5 L1545.3,1107.5 L1548.3,1107.5 L1551.2,1107.5 L1554.2,1107.4 L1557.1,1107.4 L1560.1,1107.4 L1563.0,1107.4 L1566.0,1107.4 L1568.9,1107.4 L1571.9,1107.3 L1574.8,1107.3 L1577.8,1107.3 L1580.7,1107.3 L1583.7,1107.3 L1586.6,1107.3 L1589.6,1107.2 L1592.5,1107.2 L1595.5,1107.2 L1598.4,1107.2 L1601.4,1107.2 L1604.3,1107.2 L1607.3,1107.1 L1610.2,1107.1 L1613.2,1107.1 L1616.1,1107.1 L1619.1,1107.1 L1622.0,1107.0 L1625.0,1107.0 L1627.9,1107.0 L1630.9,1107.0 L1633.8,1107.0 L1636.8,1106.9 L1639.7,1106.9 L1642.7,1106.9 L1645.6,1106.9 L1648.6,1106.9 L1651.5,1106.8 L1654.5,1106.8 L1657.4,1106.8 L1660.4,1106.8 L1663.3,1106.8 L1666.3,1106.7 L1669.2,1106.7 L1672.2,1106.7 L1675.1,1106.7 L1678.1,1106.7 L1681.0,1106.6 L1684.0,1106.6 L1686.9,1106.6 L1689.9,1106.6 L1692.8,1106.6 L1695.8,1106.5 L1698.7,1106.5 L1701.7,1106.5 L1704.6,1106.5 L1707.6,1106.5 L1710.5,1106.4 L1713.5,1106.4 L1716.4,1106.4 L1719.4,1106.4 L1722.3,1106.4 L1725.3,1106.3 L1728.2,1106.3 L1731.2,1106.3 L1734.1,1106.3 L1737.1,1106.3 L1740.0,1106.2 L1743.0,1106.2 L1745.9,1106.2 L1748.9,1106.2 L1751.8,1106.2 L1754.8,1106.1 L1757.7,1106.1 L1760.7,1106.1 L1763.6,1106.1 L1766.6,1106.1 L1769.5,1106.0 L1772.5,1106.0 L1775.4,1106.0 L1778.4,1106.0 L1781.3,1106.0 L1784.3,1105.9 L1787.2,1105.9 L1790.2,1105.9 L1793.1,1105.9 L1796.1,1105.9 L1799.0,1105.9 L1802.0,1105.8 L1804.9,1105.8 L1807.9,1105.8 L1810.8,1105.8 L1813.8,1105.8 L1816.7,1105.8 L1819.7,1105.7 L1822.6,1105.7 L1825.6,1105.7 L1828.5,1105.7 L1831.5,1105.7 L1834.4,1105.7 L1837.4,1105.7 L1840.3,1105.6 L1843.3,1105.6 L1846.2,1105.6 L1849.2,1105.6 L1852.1,1105.6 L1855.1,1105.6 L1858.0,1105.6 L1861.0,1105.6 L1863.9,1105.5 L1866.9,1105.5 L1869.8,1105.5 L1872.8,1105.5 L1875.7,1105.5 L1878.7,1105.5 L1881.6,1105.5 L1884.6,1105.5 L1887.5,1105.5 L1890.5,1105.5 L1893.4,1105.5 L1896.4,1105.4 L1899.3,1105.4 L1902.3,1105.4 L1905.2,1105.4 L1908.2,1105.4 L1911.1,1105.4 L1914.1,1105.4 L1917.0,1105.4 L1920.0,1105.4 L1922.9,1105.4 L1925.9,1105.4 L1928.8,1105.4 L1931.8,1105.4 L1934.7,1105.4 L1937.7,1105.4 L1940.6,1105.4 L1943.6,1105.4 L1946.5,1105.4 L1949.5,1105.4 L1952.4,1105.4 L1955.4,1105.4 L1958.3,1105.4 L1961.3,1105.4 L1964.2,1105.4 L1967.2,1105.4 L1970.1,1105.4 L1973.1,1105.4 L1976.0,1105.4 L1979.0,1105.4 L1981.9,1105.4 L1984.9,1105.4 L1987.8,1105.4 L1990.8,1105.5 L1993.7,1105.5 L1996.7,1105.5 L1999.6,1105.5 L2002.6,1105.5 L2005.5,1105.5"/>
<path class="c" stroke="#E69F00" stroke-width="7" d="M238.5,1390.0 L241.4,1388.5 L244.4,1387.0 L247.3,1385.6 L250.3,1384.2 L253.2,1382.9 L256.2,1381.6 L259.1,1380.4 L262.1,1379.2 L265.0,1378.0 L268.0,1376.9 L270.9,1375.8 L273.9,1374.8 L276.8,1373.8 L279.8,1372.8 L282.7,1371.9 L285.7,1370.9 L288.6,1370.1 L291.6,1369.2 L294.5,1368.4 L297.5,1367.5 L300.4,1366.7 L303.4,1366.0 L306.3,1365.2 L309.3,1364.5 L312.2,1363.8 L315.2,1363.1 L318.1,1362.4 L321.1,1361.7 L324.0,1361.1 L327.0,1360.4 L329.9,1359.8 L332.9,1359.1 L335.8,1358.5 L338.8,1357.9 L341.7,1357.3 L344.7,1356.6 L347.6,1356.0 L350.6,1355.4 L353.5,1354.8 L356.5,1354.1 L359.4,1353.5 L362.4,1352.8 L365.3,1352.2 L368.3,1351.5 L371.2,1350.8 L374.2,1350.2 L377.1,1349.5 L380.1,1348.8 L383.0,1348.1 L386.0,1347.3 L388.9,1346.6 L391.9,1345.9 L394.8,1345.1 L397.8,1344.3 L400.7,1343.5 L403.7,1342.7 L406.6,1341.9 L409.6,1341.1 L412.5,1340.2 L415.5,1339.3 L418.4,1338.4 L421.4,1337.5 L424.3,1336.6 L427.3,1335.6 L430.2,1334.7 L433.2,1333.7 L436.1,1332.6 L439.1,1331.6 L442.0,1330.5 L445.0,1329.5 L447.9,1328.4 L450.9,1327.3 L453.8,1326.1 L456.8,1325.0 L459.7,1323.8 L462.7,1322.6 L465.6,1321.4 L468.6,1320.1 L471.5,1318.9 L474.5,1317.6 L477.4,1316.4 L480.4,1315.1 L483.3,1313.8 L486.3,1312.4 L489.2,1311.1 L492.2,1309.7 L495.1,1308.4 L498.1,1307.0 L501.0,1305.6 L504.0,1304.2 L506.9,1302.7 L509.9,1301.3 L512.8,1299.8 L515.8,1298.4 L518.7,1296.9 L521.7,1295.4 L524.6,1293.9 L527.6,1292.4 L530.5,1290.9 L533.5,1289.3 L536.4,1287.8 L539.4,1286.2 L542.3,1284.7 L545.3,1283.1 L548.2,1281.5 L551.2,1279.9 L554.1,1278.3 L557.1,1276.7 L560.0,1275.1 L563.0,1273.5 L565.9,1271.9 L568.9,1270.2 L571.8,1268.6 L574.8,1267.0 L577.7,1265.3 L580.7,1263.7 L583.6,1262.0 L586.6,1260.3 L589.5,1258.7 L592.5,1257.0 L595.4,1255.3 L598.4,1253.6 L601.3,1252.0 L604.3,1250.3 L607.2,1248.6 L610.2,1246.9 L613.1,1245.2 L616.1,1243.5 L619.0,1241.8 L622.0,1240.1 L624.9,1238.4 L627.9,1236.7 L630.8,1235.0 L633.8,1233.3 L636.7,1231.6 L639.7,1229.9 L642.6,1228.2 L645.6,1226.5 L648.5,1224.9 L651.5,1223.2 L654.4,1221.5 L657.4,1219.8 L660.3,1218.1 L663.3,1216.4 L666.2,1214.7 L669.2,1213.1 L672.1,1211.4 L675.1,1209.7 L678.0,1208.1 L681.0,1206.4 L683.9,1204.8 L686.9,1203.1 L689.8,1201.5 L692.8,1199.9 L695.7,1198.2 L698.7,1196.6 L701.6,1195.0 L704.6,1193.4 L707.5,1191.8 L710.5,1190.2 L713.4,1188.6 L716.4,1187.0 L719.3,1185.5 L722.3,1183.9 L725.2,1182.4 L728.2,1180.8 L731.1,1179.3 L734.1,1177.7 L737.0,1176.2 L740.0,1174.7 L742.9,1173.2 L745.9,1171.7 L748.8,1170.2 L751.8,1168.7 L754.7,1167.3 L757.7,1165.8 L760.6,1164.3 L763.6,1162.9 L766.5,1161.4 L769.5,1160.0 L772.4,1158.6 L775.4,1157.2 L778.3,1155.8 L781.3,1154.4 L784.2,1153.0 L787.2,1151.6 L790.1,1150.3 L793.1,1148.9 L796.0,1147.6 L799.0,1146.3 L801.9,1144.9 L804.9,1143.6 L807.8,1142.3 L810.8,1141.0 L813.7,1139.8 L816.7,1138.5 L819.6,1137.2 L822.6,1136.0 L825.5,1134.7 L828.5,1133.5 L831.4,1132.3 L834.4,1131.1 L837.3,1129.9 L840.3,1128.7 L843.2,1127.5 L846.2,1126.4 L849.1,1125.2 L852.1,1124.1 L855.0,1123.0 L858.0,1121.9 L860.9,1120.8 L863.9,1119.7 L866.8,1118.6 L869.8,1117.5 L872.7,1116.5 L875.7,1115.4 L878.6,1114.4 L881.6,1113.4 L884.5,1112.3 L887.5,1111.3 L890.4,1110.3 L893.4,1109.4 L896.3,1108.4 L899.3,1107.4 L902.2,1106.5 L905.2,1105.5 L908.1,1104.6 L911.1,1103.7 L914.0,1102.8 L917.0,1101.9 L919.9,1101.0 L922.9,1100.1 L925.8,1099.2 L928.8,1098.4 L931.7,1097.5 L934.7,1096.7 L937.6,1095.8 L940.6,1095.0 L943.5,1094.2 L946.5,1093.4 L949.4,1092.6 L952.4,1091.8 L955.3,1091.0 L958.3,1090.2 L961.2,1089.5 L964.2,1088.7 L967.1,1088.0 L970.1,1087.2 L973.0,1086.5 L976.0,1085.8 L978.9,1085.0 L981.9,1084.3 L984.8,1083.6 L987.8,1082.9 L990.7,1082.2 L993.7,1081.6 L996.6,1080.9 L999.6,1080.2 L1002.5,1079.6 L1005.5,1078.9 L1008.4,1078.3 L1011.4,1077.6 L1014.3,1077.0 L1017.3,1076.4 L1020.2,1075.8 L1023.2,1075.2 L1026.1,1074.5 L1029.1,1074.0 L1032.0,1073.4 L1035.0,1072.8 L1037.9,1072.2 L1040.9,1071.6 L1043.8,1071.1 L1046.8,1070.5 L1049.7,1069.9 L1052.7,1069.4 L1055.6,1068.8 L1058.6,1068.3 L1061.5,1067.8 L1064.5,1067.2 L1067.4,1066.7 L1070.4,1066.2 L1073.3,1065.7 L1076.3,1065.2 L1079.2,1064.7 L1082.2,1064.2 L1085.1,1063.7 L1088.1,1063.2 L1091.0,1062.7 L1094.0,1062.2 L1096.9,1061.7 L1099.9,1061.2 L1102.8,1060.8 L1105.8,1060.3 L1108.7,1059.8 L1111.7,1059.4 L1114.6,1058.9 L1117.6,1058.5 L1120.5,1058.0 L1123.5,1057.6 L1126.4,1057.2 L1129.4,1056.7 L1132.3,1056.3 L1135.3,1055.9 L1138.2,1055.4 L1141.2,1055.0 L1144.1,1054.6 L1147.1,1054.2 L1150.0,1053.8 L1153.0,1053.4 L1155.9,1053.0 L1158.9,1052.6 L1161.8,1052.2 L1164.8,1051.8 L1167.7,1051.4 L1170.7,1051.0 L1173.6,1050.7 L1176.6,1050.3 L1179.5,1049.9 L1182.5,1049.5 L1185.4,1049.2 L1188.4,1048.8 L1191.3,1048.4 L1194.3,1048.1 L1197.2,1047.7 L1200.2,1047.4 L1203.1,1047.0 L1206.1,1046.7 L1209.0,1046.4 L1212.0,1046.0 L1214.9,1045.7 L1217.9,1045.4 L1220.8,1045.0 L1223.8,1044.7 L1226.7,1044.4 L1229.7,1044.1 L1232.6,1043.8 L1235.6,1043.5 L1238.5,1043.2 L1241.5,1042.9 L1244.4,1042.6 L1247.4,1042.3 L1250.3,1042.0 L1253.3,1041.7 L1256.2,1041.4 L1259.2,1041.1 L1262.1,1040.8 L1265.1,1040.5 L1268.0,1040.3 L1271.0,1040.0 L1273.9,1039.7 L1276.9,1039.5 L1279.8,1039.2 L1282.8,1038.9 L1285.7,1038.7 L1288.7,1038.4 L1291.6,1038.2 L1294.6,1037.9 L1297.5,1037.7 L1300.5,1037.4 L1303.4,1037.2 L1306.4,1036.9 L1309.3,1036.7 L1312.3,1036.5 L1315.2,1036.2 L1318.2,1036.0 L1321.1,1035.8 L1324.1,1035.5 L1327.0,1035.3 L1330.0,1035.1 L1332.9,1034.9 L1335.9,1034.7 L1338.8,1034.5 L1341.8,1034.2 L1344.7,1034.0 L1347.7,1033.8 L1350.6,1033.6 L1353.6,1033.4 L1356.5,1033.2 L1359.5,1033.0 L1362.4,1032.8 L1365.4,1032.7 L1368.3,1032.5 L1371.3,1032.3 L1374.2,1032.1 L1377.2,1031.9 L1380.1,1031.7 L1383.1,1031.6 L1386.0,1031.4 L1389.0,1031.2 L1391.9,1031.0 L1394.9,1030.9 L1397.8,1030.7 L1400.8,1030.5 L1403.7,1030.4 L1406.7,1030.2 L1409.6,1030.0 L1412.6,1029.9 L1415.5,1029.7 L1418.5,1029.6 L1421.4,1029.4 L1424.4,1029.3 L1427.3,1029.1 L1430.3,1029.0 L1433.2,1028.8 L1436.2,1028.7 L1439.1,1028.5 L1442.1,1028.4 L1445.0,1028.3 L1448.0,1028.1 L1450.9,1028.0 L1453.9,1027.9 L1456.8,1027.7 L1459.8,1027.6 L1462.7,1027.5 L1465.7,1027.3 L1468.6,1027.2 L1471.6,1027.1 L1474.5,1027.0 L1477.5,1026.8 L1480.4,1026.7 L1483.4,1026.6 L1486.3,1026.5 L1489.3,1026.4 L1492.2,1026.3 L1495.2,1026.1 L1498.1,1026.0 L1501.1,1025.9 L1504.0,1025.8 L1507.0,1025.7 L1509.9,1025.6 L1512.9,1025.5 L1515.8,1025.4 L1518.8,1025.3 L1521.7,1025.2 L1524.7,1025.1 L1527.6,1025.0 L1530.6,1024.9 L1533.5,1024.8 L1536.5,1024.7 L1539.4,1024.6 L1542.4,1024.5 L1545.3,1024.4 L1548.3,1024.3 L1551.2,1024.2 L1554.2,1024.2 L1557.1,1024.1 L1560.1,1024.0 L1563.0,1023.9 L1566.0,1023.8 L1568.9,1023.7 L1571.9,1023.6 L1574.8,1023.6 L1577.8,1023.5 L1580.7,1023.4 L1583.7,1023.3 L1586.6,1023.2 L1589.6,1023.1 L1592.5,1023.1 L1595.5,1023.0 L1598.4,1022.9 L1601.4,1022.8 L1604.3,1022.8 L1607.3,1022.7 L1610.2,1022.6 L1613.2,1022.5 L1616.1,1022.5 L1619.1,1022.4 L1622.0,1022.3 L1625.0,1022.3 L1627.9,1022.2 L1630.9,1022.1 L1633.8,1022.0 L1636.8,1022.0 L1639.7,1021.9 L1642.7,1021.8 L1645.6,1021.8 L1648.6,1021.7 L1651.5,1021.6 L1654.5,1021.6 L1657.4,1021.5 L1660.4,1021.5 L1663.3,1021.4 L1666.3,1021.3 L1669.2,1021.3 L1672.2,1021.2 L1675.1,1021.2 L1678.1,1021.1 L1681.0,1021.0 L1684.0,1021.0 L1686.9,1020.9 L1689.9,1020.9 L1692.8,1020.8 L1695.8,1020.8 L1698.7,1020.7 L1701.7,1020.7 L1704.6,1020.6 L1707.6,1020.6 L1710.5,1020.5 L1713.5,1020.5 L1716.4,1020.4 L1719.4,1020.4 L1722.3,1020.3 L1725.3,1020.3 L1728.2,1020.2 L1731.2,1020.2 L1734.1,1020.1 L1737.1,1020.1 L1740.0,1020.0 L1743.0,1020.0 L1745.9,1019.9 L1748.9,1019.9 L1751.8,1019.8 L1754.8,1019.8 L1757.7,1019.8 L1760.7,1019.7 L1763.6,1019.7 L1766.6,1019.6 L1769.5,1019.6 L1772.5,1019.6 L1775.4,1019.5 L1778.4,1019.5 L1781.3,1019.5 L1784.3,1019.4 L1787.2,1019.4 L1790.2,1019.3 L1793.1,1019.3 L1796.1,1019.3 L1799.0,1019.2 L1802.0,1019.2 L1804.9,1019.2 L1807.9,1019.1 L1810.8,1019.1 L1813.8,1019.1 L1816.7,1019.0 L1819.7,1019.0 L1822.6,1019.0 L1825.6,1019.0 L1828.5,1018.9 L1831.5,1018.9 L1834.4,1018.9 L1837.4,1018.8 L1840.3,1018.8 L1843.3,1018.8 L1846.2,1018.8 L1849.2,1018.7 L1852.1,1018.7 L1855.1,1018.7 L1858.0,1018.7 L1861.0,1018.6 L1863.9,1018.6 L1866.9,1018.6 L1869.8,1018.6 L1872.8,1018.6 L1875.7,1018.5 L1878.7,1018.5 L1881.6,1018.5 L1884.6,1018.5 L1887.5,1018.5 L1890.5,1018.4 L1893.4,1018.4 L1896.4,1018.4 L1899.3,1018.4 L1902.3,1018.4 L1905.2,1018.3 L1908.2,1018.3 L1911.1,1018.3 L1914.1,1018.3 L1917.0,1018.3 L1920.0,1018.3 L1922.9,1018.3 L1925.9,1018.2 L1928.8,1018.2 L1931.8,1018.2 L1934.7,1018.2 L1937.7,1018.2 L1940.6,1018.2 L1943.6,1018.2 L1946.5,1018.2 L1949.5,1018.1 L1952.4,1018.1 L1955.4,1018.1 L1958.3,1018.1 L1961.3,1018.1 L1964.2,1018.1 L1967.2,1018.1 L1970.1,1018.1 L1973.1,1018.1 L1976.0,1018.1 L1979.0,1018.1 L1981.9,1018.0 L1984.9,1018.0 L1987.8,1018.0 L1990.8,1018.0 L1993.7,1018.0 L1996.7,1018.0 L1999.6,1018.0 L2002.6,1018.0 L2005.5,1018.0"/>
<path class="c" stroke="#9400D3" stroke-width="7" d="M898,178.5 H1059"/>
<path class="c" stroke="#009E73" stroke-width="7" d="M898,236.5 H1059"/>
<path class="c" stroke="#56B4E9" stroke-width="7" d="M898,294.5 H1059"/>
<path class="c" stroke="#E69F00" stroke-width="7" d="M898,352 H1059"/>
<text x="865" y="197.4" font-size="58" text-anchor="end">RNA Free at ER</text>
<text x="865" y="255.4" font-size="58" text-anchor="end">RNA Vol in Vol</text>
<text x="865" y="313.4" font-size="58" text-anchor="end">RNA Ribo at Ribos</text>
<text x="865" y="371.4" font-size="58" text-anchor="end">Repli in MW</text>
<path fill="none" stroke="#000" stroke-width="5" d="M238.5,127 V1394"/>
<path fill="none" stroke="#000" stroke-width="4" d="M236,129 H2204 M236,1392 H2204 M2202,127 V1394"/>
<text x="246.5" y="1468.5" font-size="58" text-anchor="middle">0</text>
<text x="573.8" y="1468.5" font-size="58" text-anchor="middle">5000</text>
<text x="901.0" y="1468.5" font-size="58" text-anchor="middle">10000</text>
<text x="1228.2" y="1468.5" font-size="58" text-anchor="middle">15000</text>
<text x="1555.5" y="1468.5" font-size="58" text-anchor="middle">20000</text>
<text x="1882.8" y="1468.5" font-size="58" text-anchor="middle">25000</text>
<text x="2210.0" y="1468.5" font-size="58" text-anchor="middle">30000</text>
<text x="203" y="1410.6" font-size="58" text-anchor="end">0</text>
<text x="203" y="1158.0" font-size="58" text-anchor="end">5</text>
<text x="203" y="905.4" font-size="58" text-anchor="end">10</text>
<text x="203" y="652.8" font-size="58" text-anchor="end">15</text>
<text x="203" y="400.2" font-size="58" text-anchor="end">20</text>
<text x="203" y="147.6" font-size="58" text-anchor="end">25</text>
<text x="1219.5" y="61.5" font-size="58" text-anchor="middle">Total amount of vRNA forms</text>
<text x="1220.2" y="1556.5" font-size="58" text-anchor="middle">time [s]</text>
<text font-size="58" text-anchor="middle" transform="translate(64,760) rotate(-90)">total amount</text>
</g>
<g id="captionA">
<text class="cap" font-size="85" transform="translate(852.83,1688) scale(0.9893,1)">(<tspan font-weight="bold">A</tspan>)</text>
<text class="cap" font-size="85" transform="translate(992.30,1688) scale(1.0533,1)">vRNA</text>
<text class="cap" font-size="85" transform="translate(1248.53,1688) scale(1.0842,1)">forms</text>
</g>
<g id="plotB">
<path class="t" d="M610.67,3115.0 V3094 M610.67,1867.0 V1887 M928.33,3115.0 V3094 M928.33,1867.0 V1887 M1246.00,3115.0 V3094 M1246.00,1867.0 V1887 M1563.67,3115.0 V3094 M1563.67,1867.0 V1887 M1881.33,3115.0 V3094 M1881.33,1867.0 V1887 M293.0,2936.71 H313 M2199.0,2936.71 H2179 M293.0,2758.43 H313 M2199.0,2758.43 H2179 M293.0,2580.14 H313 M2199.0,2580.14 H2179 M293.0,2401.86 H313 M2199.0,2401.86 H2179 M293.0,2223.57 H313 M2199.0,2223.57 H2179 M293.0,2045.29 H313 M2199.0,2045.29 H2179"/>
<path class="c" stroke="#F0E442" stroke-width="7" d="M293.0,3115.0 L295.9,3115.0 L298.7,3115.0 L301.6,3114.9 L304.5,3114.9 L307.3,3114.9 L310.2,3114.9 L313.0,3114.9 L315.9,3114.8 L318.8,3114.8 L321.6,3114.8 L324.5,3114.8 L327.4,3114.8 L330.2,3114.7 L333.1,3114.7 L336.0,3114.7 L338.8,3114.7 L341.7,3114.7 L344.6,3114.7 L347.4,3114.6 L350.3,3114.6 L353.1,3114.6 L356.0,3114.6 L358.9,3114.6 L361.7,3114.6 L364.6,3114.5 L367.5,3114.5 L370.3,3114.5 L373.2,3114.5 L376.1,3114.5 L378.9,3114.5 L381.8,3114.4 L384.7,3114.4 L387.5,3114.4 L390.4,3114.4 L393.2,3114.4 L396.1,3114.4 L399.0,3114.4 L401.8,3114.3 L404.7,3114.3 L407.6,3114.3 L410.4,3114.3 L413.3,3114.3 L416.2,3114.3 L419.0,3114.3 L421.9,3114.2 L424.7,3114.2 L427.6,3114.2 L430.5,3114.2 L433.3,3114.2 L436.2,3114.2 L439.1,3114.2 L441.9,3114.1 L444.8,3114.1 L447.7,3114.1 L450.5,3114.1 L453.4,3114.1 L456.3,3114.1 L459.1,3114.1 L462.0,3114.1 L464.8,3114.1 L467.7,3114.0 L470.6,3114.0 L473.4,3114.0 L476.3,3114.0 L479.2,3114.0 L482.0,3114.0 L484.9,3114.0 L487.8,3114.0 L490.6,3114.0 L493.5,3113.9 L496.4,3113.9 L499.2,3113.9 L502.1,3113.9 L504.9,3113.9 L507.8,3113.9 L510.7,3113.9 L513.5,3113.9 L516.4,3113.9 L519.3,3113.9 L522.1,3113.9 L525.0,3113.8 L527.9,3113.8 L530.7,3113.8 L533.6,3113.8 L536.4,3113.8 L539.3,3113.8 L542.2,3113.8 L545.0,3113.8 L547.9,3113.8 L550.8,3113.8 L553.6,3113.8 L556.5,3113.8 L559.4,3113.7 L562.2,3113.7 L565.1,3113.7 L568.0,3113.7 L570.8,3113.7 L573.7,3113.7 L576.5,3113.7 L579.4,3113.7 L582.3,3113.7 L585.1,3113.7 L588.0,3113.7 L590.9,3113.7 L593.7,3113.7 L596.6,3113.7 L599.5,3113.7 L602.3,3113.7 L605.2,3113.6 L608.1,3113.6 L610.9,3113.6 L613.8,3113.6 L616.6,3113.6 L619.5,3113.6 L622.4,3113.6 L625.2,3113.6 L628.1,3113.6 L631.0,3113.6 L633.8,3113.6 L636.7,3113.6 L639.6,3113.6 L642.4,3113.6 L645.3,3113.6 L648.1,3113.6 L651.0,3113.6 L653.9,3113.6 L656.7,3113.6 L659.6,3113.6 L662.5,3113.6 L665.3,3113.6 L668.2,3113.6 L671.1,3113.6 L673.9,3113.5 L676.8,3113.5 L679.7,3113.5 L682.5,3113.5 L685.4,3113.5 L688.2,3113.5 L691.1,3113.5 L694.0,3113.5 L696.8,3113.5 L699.7,3113.5 L702.6,3113.5 L705.4,3113.5 L708.3,3113.5 L711.2,3113.5 L714.0,3113.5 L716.9,3113.5 L719.8,3113.5 L722.6,3113.5 L725.5,3113.5 L728.3,3113.5 L731.2,3113.5 L734.1,3113.5 L736.9,3113.5 L739.8,3113.5 L742.7,3113.5 L745.5,3113.5 L748.4,3113.5 L751.3,3113.5 L754.1,3113.5 L757.0,3113.5 L759.8,3113.5 L762.7,3113.5 L765.6,3113.5 L768.4,3113.5 L771.3,3113.5 L774.2,3113.5 L777.0,3113.5 L779.9,3113.5 L782.8,3113.5 L785.6,3113.5 L788.5,3113.5 L791.4,3113.5 L794.2,3113.5 L797.1,3113.5 L799.9,3113.5 L802.8,3113.5 L805.7,3113.5 L808.5,3113.5 L811.4,3113.5 L814.3,3113.5 L817.1,3113.5 L820.0,3113.5 L822.9,3113.5 L825.7,3113.5 L828.6,3113.5 L831.5,3113.5 L834.3,3113.5 L837.2,3113.5 L840.0,3113.5 L842.9,3113.5 L845.8,3113.5 L848.6,3113.5 L851.5,3113.5 L854.4,3113.5 L857.2,3113.5 L860.1,3113.5 L863.0,3113.5 L865.8,3113.5 L868.7,3113.5 L871.5,3113.6 L874.4,3113.6 L877.3,3113.6 L880.1,3113.6 L883.0,3113.6 L885.9,3113.6 L888.7,3113.6 L891.6,3113.6 L894.5,3113.6 L897.3,3113.6 L900.2,3113.6 L903.1,3113.6 L905.9,3113.6 L908.8,3113.6 L911.6,3113.6 L914.5,3113.6 L917.4,3113.6 L920.2,3113.6 L923.1,3113.6 L926.0,3113.6 L928.8,3113.6 L931.7,3113.6 L934.6,3113.6 L937.4,3113.6 L940.3,3113.6 L943.2,3113.6 L946.0,3113.6 L948.9,3113.6 L951.7,3113.6 L954.6,3113.6 L957.5,3113.7 L960.3,3113.7 L963.2,3113.7 L966.1,3113.7 L968.9,3113.7 L971.8,3113.7 L974.7,3113.7 L977.5,3113.7 L980.4,3113.7 L983.2,3113.7 L986.1,3113.7 L989.0,3113.7 L991.8,3113.7 L994.7,3113.7 L997.6,3113.7 L1000.4,3113.7 L1003.3,3113.7 L1006.2,3113.7 L1009.0,3113.7 L1011.9,3113.7 L1014.8,3113.7 L1017.6,3113.7 L1020.5,3113.8 L1023.3,3113.8 L1026.2,3113.8 L1029.1,3113.8 L1031.9,3113.8 L1034.8,3113.8 L1037.7,3113.8 L1040.5,3113.8 L1043.4,3113.8 L1046.3,3113.8 L1049.1,3113.8 L1052.0,3113.8 L1054.9,3113.8 L1057.7,3113.8 L1060.6,3113.8 L1063.4,3113.8 L1066.3,3113.8 L1069.2,3113.8 L1072.0,3113.8 L1074.9,3113.9 L1077.8,3113.9 L1080.6,3113.9 L1083.5,3113.9 L1086.4,3113.9 L1089.2,3113.9 L1092.1,3113.9 L1094.9,3113.9 L1097.8,3113.9 L1100.7,3113.9 L1103.5,3113.9 L1106.4,3113.9 L1109.3,3113.9 L1112.1,3113.9 L1115.0,3113.9 L1117.9,3113.9 L1120.7,3113.9 L1123.6,3113.9 L1126.5,3114.0 L1129.3,3114.0 L1132.2,3114.0 L1135.0,3114.0 L1137.9,3114.0 L1140.8,3114.0 L1143.6,3114.0 L1146.5,3114.0 L1149.4,3114.0 L1152.2,3114.0 L1155.1,3114.0 L1158.0,3114.0 L1160.8,3114.0 L1163.7,3114.0 L1166.6,3114.0 L1169.4,3114.0 L1172.3,3114.0 L1175.1,3114.1 L1178.0,3114.1 L1180.9,3114.1 L1183.7,3114.1 L1186.6,3114.1 L1189.5,3114.1 L1192.3,3114.1 L1195.2,3114.1 L1198.1,3114.1 L1200.9,3114.1 L1203.8,3114.1 L1206.7,3114.1 L1209.5,3114.1 L1212.4,3114.1 L1215.2,3114.1 L1218.1,3114.1 L1221.0,3114.1 L1223.8,3114.2 L1226.7,3114.2 L1229.6,3114.2 L1232.4,3114.2 L1235.3,3114.2 L1238.2,3114.2 L1241.0,3114.2 L1243.9,3114.2 L1246.7,3114.2 L1249.6,3114.2 L1252.5,3114.2 L1255.3,3114.2 L1258.2,3114.2 L1261.1,3114.2 L1263.9,3114.2 L1266.8,3114.2 L1269.7,3114.2 L1272.5,3114.3 L1275.4,3114.3 L1278.3,3114.3 L1281.1,3114.3 L1284.0,3114.3 L1286.8,3114.3 L1289.7,3114.3 L1292.6,3114.3 L1295.4,3114.3 L1298.3,3114.3 L1301.2,3114.3 L1304.0,3114.3 L1306.9,3114.3 L1309.8,3114.3 L1312.6,3114.3 L1315.5,3114.3 L1318.4,3114.3 L1321.2,3114.4 L1324.1,3114.4 L1326.9,3114.4 L1329.8,3114.4 L1332.7,3114.4 L1335.5,3114.4 L1338.4,3114.4 L1341.3,3114.4 L1344.1,3114.4 L1347.0,3114.4 L1349.9,3114.4 L1352.7,3114.4 L1355.6,3114.4 L1358.4,3114.4 L1361.3,3114.4 L1364.2,3114.4 L1367.0,3114.4 L1369.9,3114.4 L1372.8,3114.4 L1375.6,3114.4 L1378.5,3114.5 L1381.4,3114.5 L1384.2,3114.5 L1387.1,3114.5 L1390.0,3114.5 L1392.8,3114.5 L1395.7,3114.5 L1398.5,3114.5 L1401.4,3114.5 L1404.3,3114.5 L1407.1,3114.5 L1410.0,3114.5 L1412.9,3114.5 L1415.7,3114.5 L1418.6,3114.5 L1421.5,3114.5 L1424.3,3114.5 L1427.2,3114.5 L1430.1,3114.5 L1432.9,3114.5 L1435.8,3114.5 L1438.6,3114.6 L1441.5,3114.6 L1444.4,3114.6 L1447.2,3114.6 L1450.1,3114.6 L1453.0,3114.6 L1455.8,3114.6 L1458.7,3114.6 L1461.6,3114.6 L1464.4,3114.6 L1467.3,3114.6 L1470.1,3114.6 L1473.0,3114.6 L1475.9,3114.6 L1478.7,3114.6 L1481.6,3114.6 L1484.5,3114.6 L1487.3,3114.6 L1490.2,3114.6 L1493.1,3114.6 L1495.9,3114.6 L1498.8,3114.6 L1501.7,3114.6 L1504.5,3114.6 L1507.4,3114.6 L1510.2,3114.6 L1513.1,3114.6 L1516.0,3114.6 L1518.8,3114.6 L1521.7,3114.6 L1524.6,3114.7 L1527.4,3114.7 L1530.3,3114.7 L1533.2,3114.7 L1536.0,3114.7 L1538.9,3114.7 L1541.8,3114.7 L1544.6,3114.7 L1547.5,3114.7 L1550.3,3114.7 L1553.2,3114.7 L1556.1,3114.7 L1558.9,3114.7 L1561.8,3114.7 L1564.7,3114.7 L1567.5,3114.7 L1570.4,3114.7 L1573.3,3114.7 L1576.1,3114.7 L1579.0,3114.7 L1581.8,3114.7 L1584.7,3114.7 L1587.6,3114.7 L1590.4,3114.7 L1593.3,3114.7 L1596.2,3114.7 L1599.0,3114.7 L1601.9,3114.7 L1604.8,3114.7 L1607.6,3114.7 L1610.5,3114.7 L1613.4,3114.7 L1616.2,3114.7 L1619.1,3114.7 L1621.9,3114.7 L1624.8,3114.7 L1627.7,3114.7 L1630.5,3114.7 L1633.4,3114.7 L1636.3,3114.7 L1639.1,3114.7 L1642.0,3114.7 L1644.9,3114.7 L1647.7,3114.7 L1650.6,3114.7 L1653.5,3114.7 L1656.3,3114.7 L1659.2,3114.7 L1662.0,3114.7 L1664.9,3114.7 L1667.8,3114.7 L1670.6,3114.7 L1673.5,3114.7 L1676.4,3114.7 L1679.2,3114.7 L1682.1,3114.7 L1685.0,3114.7 L1687.8,3114.7 L1690.7,3114.7 L1693.5,3114.7 L1696.4,3114.7 L1699.3,3114.7 L1702.1,3114.7 L1705.0,3114.7 L1707.9,3114.7 L1710.7,3114.7 L1713.6,3114.7 L1716.5,3114.7 L1719.3,3114.7 L1722.2,3114.7 L1725.1,3114.7 L1727.9,3114.6 L1730.8,3114.6 L1733.6,3114.6 L1736.5,3114.6 L1739.4,3114.6 L1742.2,3114.6 L1745.1,3114.6 L1748.0,3114.6 L1750.8,3114.6 L1753.7,3114.6 L1756.6,3114.6 L1759.4,3114.6 L1762.3,3114.6 L1765.2,3114.6 L1768.0,3114.6 L1770.9,3114.6 L1773.7,3114.6 L1776.6,3114.6 L1779.5,3114.6 L1782.3,3114.6 L1785.2,3114.6 L1788.1,3114.6 L1790.9,3114.6 L1793.8,3114.6 L1796.7,3114.5 L1799.5,3114.5 L1802.4,3114.5 L1805.2,3114.5 L1808.1,3114.5 L1811.0,3114.5 L1813.8,3114.5 L1816.7,3114.5 L1819.6,3114.5 L1822.4,3114.5 L1825.3,3114.5 L1828.2,3114.5 L1831.0,3114.5 L1833.9,3114.5 L1836.8,3114.5 L1839.6,3114.5 L1842.5,3114.4 L1845.3,3114.4 L1848.2,3114.4 L1851.1,3114.4 L1853.9,3114.4 L1856.8,3114.4 L1859.7,3114.4 L1862.5,3114.4 L1865.4,3114.4 L1868.3,3114.4 L1871.1,3114.4 L1874.0,3114.4 L1876.9,3114.3 L1879.7,3114.3 L1882.6,3114.3 L1885.4,3114.3 L1888.3,3114.3 L1891.2,3114.3 L1894.0,3114.3 L1896.9,3114.3 L1899.8,3114.3 L1902.6,3114.3 L1905.5,3114.3 L1908.4,3114.2 L1911.2,3114.2 L1914.1,3114.2 L1916.9,3114.2 L1919.8,3114.2 L1922.7,3114.2 L1925.5,3114.2 L1928.4,3114.2 L1931.3,3114.2 L1934.1,3114.1 L1937.0,3114.1 L1939.9,3114.1 L1942.7,3114.1 L1945.6,3114.1 L1948.5,3114.1 L1951.3,3114.1 L1954.2,3114.1 L1957.0,3114.0 L1959.9,3114.0 L1962.8,3114.0 L1965.6,3114.0 L1968.5,3114.0 L1971.4,3114.0 L1974.2,3114.0 L1977.1,3114.0 L1980.0,3113.9 L1982.8,3113.9 L1985.7,3113.9 L1988.6,3113.9 L1991.4,3113.9 L1994.3,3113.9 L1997.1,3113.9 L2000.0,3113.8 L2002.9,3113.8 L2005.7,3113.8 L2008.6,3113.8"/>
<path class="c" stroke="#0072B2" stroke-width="7.5" d="M293.0,3115.0 L295.9,3115.0 L298.7,3115.0 L301.6,3115.0 L304.5,3115.0 L307.3,3115.0 L310.2,3115.0 L313.0,3115.0 L315.9,3115.0 L318.8,3115.0 L321.6,3115.0 L324.5,3115.0 L327.4,3115.0 L330.2,3115.0 L333.1,3114.9 L336.0,3114.9 L338.8,3114.9 L341.7,3114.9 L344.6,3114.9 L347.4,3114.9 L350.3,3114.9 L353.1,3114.9 L356.0,3114.9 L358.9,3114.9 L361.7,3114.9 L364.6,3114.9 L367.5,3114.9 L370.3,3114.9 L373.2,3114.9 L376.1,3114.9 L378.9,3114.9 L381.8,3114.9 L384.7,3114.9 L387.5,3114.9 L390.4,3114.9 L393.2,3114.9 L396.1,3114.9 L399.0,3114.9 L401.8,3114.9 L404.7,3114.9 L407.6,3114.9 L410.4,3114.9 L413.3,3114.8 L416.2,3114.8 L419.0,3114.8 L421.9,3114.8 L424.7,3114.8 L427.6,3114.8 L430.5,3114.8 L433.3,3114.8 L436.2,3114.8 L439.1,3114.8 L441.9,3114.8 L444.8,3114.8 L447.7,3114.8 L450.5,3114.8 L453.4,3114.8 L456.3,3114.8 L459.1,3114.8 L462.0,3114.8 L464.8,3114.8 L467.7,3114.8 L470.6,3114.8 L473.4,3114.8 L476.3,3114.8 L479.2,3114.8 L482.0,3114.8 L484.9,3114.8 L487.8,3114.8 L490.6,3114.8 L493.5,3114.8 L496.4,3114.8 L499.2,3114.7 L502.1,3114.7 L504.9,3114.7 L507.8,3114.7 L510.7,3114.7 L513.5,3114.7 L516.4,3114.7 L519.3,3114.7 L522.1,3114.7 L525.0,3114.7 L527.9,3114.7 L530.7,3114.7 L533.6,3114.7 L536.4,3114.7 L539.3,3114.7 L542.2,3114.7 L545.0,3114.7 L547.9,3114.7 L550.8,3114.7 L553.6,3114.7 L556.5,3114.7 L559.4,3114.7 L562.2,3114.7 L565.1,3114.7 L568.0,3114.7 L570.8,3114.7 L573.7,3114.7 L576.5,3114.7 L579.4,3114.7 L582.3,3114.7 L585.1,3114.7 L588.0,3114.7 L590.9,3114.7 L593.7,3114.6 L596.6,3114.6 L599.5,3114.6 L602.3,3114.6 L605.2,3114.6 L608.1,3114.6 L610.9,3114.6 L613.8,3114.6 L616.6,3114.6 L619.5,3114.6 L622.4,3114.6 L625.2,3114.6 L628.1,3114.6 L631.0,3114.6 L633.8,3114.6 L636.7,3114.6 L639.6,3114.6 L642.4,3114.6 L645.3,3114.6 L648.1,3114.6 L651.0,3114.6 L653.9,3114.6 L656.7,3114.6 L659.6,3114.6 L662.5,3114.6 L665.3,3114.6 L668.2,3114.6 L671.1,3114.6 L673.9,3114.6 L676.8,3114.6 L679.7,3114.6 L682.5,3114.6 L685.4,3114.6 L688.2,3114.6 L691.1,3114.6 L694.0,3114.6 L696.8,3114.6 L699.7,3114.6 L702.6,3114.6 L705.4,3114.6 L708.3,3114.6 L711.2,3114.6 L714.0,3114.5 L716.9,3114.5 L719.8,3114.5 L722.6,3114.5 L725.5,3114.5 L728.3,3114.5 L731.2,3114.5 L734.1,3114.5 L736.9,3114.5 L739.8,3114.5 L742.7,3114.5 L745.5,3114.5 L748.4,3114.5 L751.3,3114.5 L754.1,3114.5 L757.0,3114.5 L759.8,3114.5 L762.7,3114.5 L765.6,3114.5 L768.4,3114.5 L771.3,3114.5 L774.2,3114.5 L777.0,3114.5 L779.9,3114.5 L782.8,3114.5 L785.6,3114.5 L788.5,3114.5 L791.4,3114.5 L794.2,3114.5 L797.1,3114.5 L799.9,3114.5 L802.8,3114.5 L805.7,3114.5 L808.5,3114.5 L811.4,3114.5 L814.3,3114.5 L817.1,3114.5 L820.0,3114.5 L822.9,3114.5 L825.7,3114.5 L828.6,3114.5 L831.5,3114.5 L834.3,3114.5 L837.2,3114.5 L840.0,3114.5 L842.9,3114.5 L845.8,3114.5 L848.6,3114.4 L851.5,3114.4 L854.4,3114.4 L857.2,3114.4 L860.1,3114.4 L863.0,3114.4 L865.8,3114.4 L868.7,3114.4 L871.5,3114.4 L874.4,3114.4 L877.3,3114.4 L880.1,3114.4 L883.0,3114.4 L885.9,3114.4 L888.7,3114.4 L891.6,3114.4 L894.5,3114.4 L897.3,3114.4 L900.2,3114.4 L903.1,3114.4 L905.9,3114.4 L908.8,3114.4 L911.6,3114.4 L914.5,3114.4 L917.4,3114.4 L920.2,3114.4 L923.1,3114.4 L926.0,3114.4 L928.8,3114.4 L931.7,3114.4 L934.6,3114.4 L937.4,3114.4 L940.3,3114.4 L943.2,3114.4 L946.0,3114.4 L948.9,3114.4 L951.7,3114.4 L954.6,3114.4 L957.5,3114.4 L960.3,3114.4 L963.2,3114.4 L966.1,3114.4 L968.9,3114.4 L971.8,3114.4 L974.7,3114.4 L977.5,3114.4 L980.4,3114.4 L983.2,3114.4 L986.1,3114.4 L989.0,3114.4 L991.8,3114.4 L994.7,3114.4 L997.6,3114.4 L1000.4,3114.3 L1003.3,3114.3 L1006.2,3114.3 L1009.0,3114.3 L1011.9,3114.3 L1014.8,3114.3 L1017.6,3114.3 L1020.5,3114.3 L1023.3,3114.3 L1026.2,3114.3 L1029.1,3114.3 L1031.9,3114.3 L1034.8,3114.3 L1037.7,3114.3 L1040.5,3114.3 L1043.4,3114.3 L1046.3,3114.3 L1049.1,3114.3 L1052.0,3114.3 L1054.9,3114.3 L1057.7,3114.3 L1060.6,3114.3 L1063.4,3114.3 L1066.3,3114.3 L1069.2,3114.3 L1072.0,3114.3 L1074.9,3114.3 L1077.8,3114.3 L1080.6,3114.3 L1083.5,3114.3 L1086.4,3114.3 L1089.2,3114.3 L1092.1,3114.3 L1094.9,3114.3 L1097.8,3114.3 L1100.7,3114.3 L1103.5,3114.3 L1106.4,3114.3 L1109.3,3114.3 L1112.1,3114.3 L1115.0,3114.3 L1117.9,3114.3 L1120.7,3114.3 L1123.6,3114.3 L1126.5,3114.3 L1129.3,3114.3 L1132.2,3114.3 L1135.0,3114.3 L1137.9,3114.3 L1140.8,3114.3 L1143.6,3114.3 L1146.5,3114.3 L1149.4,3114.3 L1152.2,3114.3 L1155.1,3114.3 L1158.0,3114.3 L1160.8,3114.3 L1163.7,3114.3 L1166.6,3114.3 L1169.4,3114.3 L1172.3,3114.3 L1175.1,3114.3 L1178.0,3114.3 L1180.9,3114.3 L1183.7,3114.3 L1186.6,3114.2 L1189.5,3114.2 L1192.3,3114.2 L1195.2,3114.2 L1198.1,3114.2 L1200.9,3114.2 L1203.8,3114.2 L1206.7,3114.2 L1209.5,3114.2 L1212.4,3114.2 L1215.2,3114.2 L1218.1,3114.2 L1221.0,3114.2 L1223.8,3114.2 L1226.7,3114.2 L1229.6,3114.2 L1232.4,3114.2 L1235.3,3114.2 L1238.2,3114.2 L1241.0,3114.2 L1243.9,3114.2 L1246.7,3114.2 L1249.6,3114.2 L1252.5,3114.2 L1255.3,3114.2 L1258.2,3114.2 L1261.1,3114.2 L1263.9,3114.2 L1266.8,3114.2 L1269.7,3114.2 L1272.5,3114.2 L1275.4,3114.2 L1278.3,3114.2 L1281.1,3114.2 L1284.0,3114.2 L1286.8,3114.2 L1289.7,3114.2 L1292.6,3114.2 L1295.4,3114.2 L1298.3,3114.2 L1301.2,3114.2 L1304.0,3114.2 L1306.9,3114.2 L1309.8,3114.2 L1312.6,3114.2 L1315.5,3114.2 L1318.4,3114.2 L1321.2,3114.2 L1324.1,3114.2 L1326.9,3114.2 L1329.8,3114.2 L1332.7,3114.2 L1335.5,3114.2 L1338.4,3114.2 L1341.3,3114.2 L1344.1,3114.2 L1347.0,3114.2 L1349.9,3114.2 L1352.7,3114.2 L1355.6,3114.2 L1358.4,3114.2 L1361.3,3114.2 L1364.2,3114.2 L1367.0,3114.2 L1369.9,3114.2 L1372.8,3114.2 L1375.6,3114.2 L1378.5,3114.2 L1381.4,3114.2 L1384.2,3114.2 L1387.1,3114.2 L1390.0,3114.2 L1392.8,3114.2 L1395.7,3114.2 L1398.5,3114.2 L1401.4,3114.2 L1404.3,3114.2 L1407.1,3114.2 L1410.0,3114.2 L1412.9,3114.2 L1415.7,3114.2 L1418.6,3114.2 L1421.5,3114.2 L1424.3,3114.2 L1427.2,3114.2 L1430.1,3114.2 L1432.9,3114.1 L1435.8,3114.1 L1438.6,3114.1 L1441.5,3114.1 L1444.4,3114.1 L1447.2,3114.1 L1450.1,3114.1 L1453.0,3114.1 L1455.8,3114.1 L1458.7,3114.1 L1461.6,3114.1 L1464.4,3114.1 L1467.3,3114.1 L1470.1,3114.1 L1473.0,3114.1 L1475.9,3114.1 L1478.7,3114.1 L1481.6,3114.1 L1484.5,3114.1 L1487.3,3114.1 L1490.2,3114.1 L1493.1,3114.1 L1495.9,3114.1 L1498.8,3114.1 L1501.7,3114.1 L1504.5,3114.1 L1507.4,3114.1 L1510.2,3114.1 L1513.1,3114.1 L1516.0,3114.1 L1518.8,3114.1 L1521.7,3114.1 L1524.6,3114.1 L1527.4,3114.1 L1530.3,3114.1 L1533.2,3114.1 L1536.0,3114.1 L1538.9,3114.1 L1541.8,3114.1 L1544.6,3114.1 L1547.5,3114.1 L1550.3,3114.1 L1553.2,3114.1 L1556.1,3114.1 L1558.9,3114.1 L1561.8,3114.1 L1564.7,3114.1 L1567.5,3114.1 L1570.4,3114.1 L1573.3,3114.1 L1576.1,3114.1 L1579.0,3114.1 L1581.8,3114.1 L1584.7,3114.1 L1587.6,3114.1 L1590.4,3114.1 L1593.3,3114.1 L1596.2,3114.1 L1599.0,3114.1 L1601.9,3114.1 L1604.8,3114.1 L1607.6,3114.1 L1610.5,3114.1 L1613.4,3114.1 L1616.2,3114.1 L1619.1,3114.1 L1621.9,3114.1 L1624.8,3114.1 L1627.7,3114.1 L1630.5,3114.1 L1633.4,3114.1 L1636.3,3114.1 L1639.1,3114.1 L1642.0,3114.1 L1644.9,3114.1 L1647.7,3114.1 L1650.6,3114.1 L1653.5,3114.1 L1656.3,3114.1 L1659.2,3114.1 L1662.0,3114.1 L1664.9,3114.1 L1667.8,3114.1 L1670.6,3114.1 L1673.5,3114.1 L1676.4,3114.1 L1679.2,3114.1 L1682.1,3114.1 L1685.0,3114.1 L1687.8,3114.1 L1690.7,3114.1 L1693.5,3114.1 L1696.4,3114.1 L1699.3,3114.1 L1702.1,3114.1 L1705.0,3114.1 L1707.9,3114.1 L1710.7,3114.1 L1713.6,3114.1 L1716.5,3114.1 L1719.3,3114.1 L1722.2,3114.1 L1725.1,3114.1 L1727.9,3114.1 L1730.8,3114.1 L1733.6,3114.1 L1736.5,3114.1 L1739.4,3114.1 L1742.2,3114.1 L1745.1,3114.0 L1748.0,3114.0 L1750.8,3114.0 L1753.7,3114.0 L1756.6,3114.0 L1759.4,3114.0 L1762.3,3114.0 L1765.2,3114.0 L1768.0,3114.0 L1770.9,3114.0 L1773.7,3114.0 L1776.6,3114.0 L1779.5,3114.0 L1782.3,3114.0 L1785.2,3114.0 L1788.1,3114.0 L1790.9,3114.0 L1793.8,3114.0 L1796.7,3114.0 L1799.5,3114.0 L1802.4,3114.0 L1805.2,3114.0 L1808.1,3114.0 L1811.0,3114.0 L1813.8,3114.0 L1816.7,3114.0 L1819.6,3114.0 L1822.4,3114.0 L1825.3,3114.0 L1828.2,3114.0 L1831.0,3114.0 L1833.9,3114.0 L1836.8,3114.0 L1839.6,3114.0 L1842.5,3114.0 L1845.3,3114.0 L1848.2,3114.0 L1851.1,3114.0 L1853.9,3114.0 L1856.8,3114.0 L1859.7,3114.0 L1862.5,3114.0 L1865.4,3114.0 L1868.3,3114.0 L1871.1,3114.0 L1874.0,3114.0 L1876.9,3114.0 L1879.7,3114.0 L1882.6,3114.0 L1885.4,3114.0 L1888.3,3114.0 L1891.2,3114.0 L1894.0,3114.0 L1896.9,3114.0 L1899.8,3114.0 L1902.6,3114.0 L1905.5,3114.0 L1908.4,3114.0 L1911.2,3114.0 L1914.1,3114.0 L1916.9,3114.0 L1919.8,3114.0 L1922.7,3114.0 L1925.5,3114.0 L1928.4,3114.0 L1931.3,3114.0 L1934.1,3114.0 L1937.0,3114.0 L1939.9,3114.0 L1942.7,3114.0 L1945.6,3114.0 L1948.5,3114.0 L1951.3,3114.0 L1954.2,3114.0 L1957.0,3114.0 L1959.9,3114.0 L1962.8,3114.0 L1965.6,3114.0 L1968.5,3114.0 L1971.4,3114.0 L1974.2,3114.0 L1977.1,3114.0 L1980.0,3114.0 L1982.8,3114.0 L1985.7,3114.0 L1988.6,3114.0 L1991.4,3114.0 L1994.3,3114.0 L1997.1,3114.0 L2000.0,3114.0 L2002.9,3114.0 L2005.7,3114.0 L2008.6,3114.0"/>
<path class="c" stroke="#E51E10" stroke-width="7" d="M293.0,3115.0 L295.9,3114.8 L298.7,3114.6 L301.6,3114.5 L304.5,3114.3 L307.3,3114.1 L310.2,3113.9 L313.0,3113.7 L315.9,3113.5 L318.8,3113.3 L321.6,3113.0 L324.5,3112.8 L327.4,3112.6 L330.2,3112.4 L333.1,3112.1 L336.0,3111.9 L338.8,3111.6 L341.7,3111.4 L344.6,3111.1 L347.4,3110.8 L350.3,3110.6 L353.1,3110.3 L356.0,3110.0 L358.9,3109.7 L361.7,3109.5 L364.6,3109.2 L367.5,3108.9 L370.3,3108.6 L373.2,3108.2 L376.1,3107.9 L378.9,3107.6 L381.8,3107.3 L384.7,3107.0 L387.5,3106.6 L390.4,3106.3 L393.2,3105.9 L396.1,3105.6 L399.0,3105.2 L401.8,3104.9 L404.7,3104.5 L407.6,3104.2 L410.4,3103.8 L413.3,3103.4 L416.2,3103.0 L419.0,3102.6 L421.9,3102.3 L424.7,3101.9 L427.6,3101.5 L430.5,3101.1 L433.3,3100.6 L436.2,3100.2 L439.1,3099.8 L441.9,3099.4 L444.8,3099.0 L447.7,3098.5 L450.5,3098.1 L453.4,3097.7 L456.3,3097.2 L459.1,3096.8 L462.0,3096.3 L464.8,3095.8 L467.7,3095.4 L470.6,3094.9 L473.4,3094.4 L476.3,3094.0 L479.2,3093.5 L482.0,3093.0 L484.9,3092.5 L487.8,3092.0 L490.6,3091.5 L493.5,3091.0 L496.4,3090.5 L499.2,3090.0 L502.1,3089.5 L504.9,3088.9 L507.8,3088.4 L510.7,3087.9 L513.5,3087.4 L516.4,3086.8 L519.3,3086.3 L522.1,3085.7 L525.0,3085.2 L527.9,3084.6 L530.7,3084.1 L533.6,3083.5 L536.4,3082.9 L539.3,3082.4 L542.2,3081.8 L545.0,3081.2 L547.9,3080.6 L550.8,3080.0 L553.6,3079.4 L556.5,3078.8 L559.4,3078.2 L562.2,3077.6 L565.1,3077.0 L568.0,3076.4 L570.8,3075.8 L573.7,3075.2 L576.5,3074.6 L579.4,3074.0 L582.3,3073.4 L585.1,3072.7 L588.0,3072.1 L590.9,3071.5 L593.7,3070.9 L596.6,3070.2 L599.5,3069.6 L602.3,3069.0 L605.2,3068.4 L608.1,3067.7 L610.9,3067.1 L613.8,3066.4 L616.6,3065.8 L619.5,3065.2 L622.4,3064.5 L625.2,3063.9 L628.1,3063.3 L631.0,3062.6 L633.8,3062.0 L636.7,3061.3 L639.6,3060.7 L642.4,3060.1 L645.3,3059.4 L648.1,3058.8 L651.0,3058.1 L653.9,3057.5 L656.7,3056.8 L659.6,3056.2 L662.5,3055.6 L665.3,3054.9 L668.2,3054.3 L671.1,3053.7 L673.9,3053.0 L676.8,3052.4 L679.7,3051.8 L682.5,3051.1 L685.4,3050.5 L688.2,3049.9 L691.1,3049.3 L694.0,3048.6 L696.8,3048.0 L699.7,3047.4 L702.6,3046.8 L705.4,3046.2 L708.3,3045.6 L711.2,3045.0 L714.0,3044.4 L716.9,3043.8 L719.8,3043.2 L722.6,3042.6 L725.5,3042.0 L728.3,3041.4 L731.2,3040.8 L734.1,3040.2 L736.9,3039.6 L739.8,3039.1 L742.7,3038.5 L745.5,3037.9 L748.4,3037.3 L751.3,3036.8 L754.1,3036.2 L757.0,3035.7 L759.8,3035.1 L762.7,3034.6 L765.6,3034.0 L768.4,3033.5 L771.3,3033.0 L774.2,3032.4 L777.0,3031.9 L779.9,3031.4 L782.8,3030.9 L785.6,3030.3 L788.5,3029.8 L791.4,3029.3 L794.2,3028.8 L797.1,3028.3 L799.9,3027.8 L802.8,3027.3 L805.7,3026.8 L808.5,3026.4 L811.4,3025.9 L814.3,3025.4 L817.1,3024.9 L820.0,3024.5 L822.9,3024.0 L825.7,3023.5 L828.6,3023.1 L831.5,3022.6 L834.3,3022.2 L837.2,3021.7 L840.0,3021.3 L842.9,3020.9 L845.8,3020.4 L848.6,3020.0 L851.5,3019.6 L854.4,3019.1 L857.2,3018.7 L860.1,3018.3 L863.0,3017.9 L865.8,3017.5 L868.7,3017.1 L871.5,3016.7 L874.4,3016.3 L877.3,3015.9 L880.1,3015.6 L883.0,3015.2 L885.9,3014.8 L888.7,3014.4 L891.6,3014.1 L894.5,3013.7 L897.3,3013.4 L900.2,3013.0 L903.1,3012.7 L905.9,3012.3 L908.8,3012.0 L911.6,3011.7 L914.5,3011.3 L917.4,3011.0 L920.2,3010.7 L923.1,3010.4 L926.0,3010.1 L928.8,3009.8 L931.7,3009.5 L934.6,3009.2 L937.4,3008.9 L940.3,3008.6 L943.2,3008.3 L946.0,3008.1 L948.9,3007.8 L951.7,3007.5 L954.6,3007.3 L957.5,3007.0 L960.3,3006.7 L963.2,3006.5 L966.1,3006.3 L968.9,3006.0 L971.8,3005.8 L974.7,3005.6 L977.5,3005.3 L980.4,3005.1 L983.2,3004.9 L986.1,3004.7 L989.0,3004.5 L991.8,3004.3 L994.7,3004.1 L997.6,3003.9 L1000.4,3003.7 L1003.3,3003.6 L1006.2,3003.4 L1009.0,3003.2 L1011.9,3003.0 L1014.8,3002.9 L1017.6,3002.7 L1020.5,3002.6 L1023.3,3002.4 L1026.2,3002.3 L1029.1,3002.1 L1031.9,3002.0 L1034.8,3001.9 L1037.7,3001.7 L1040.5,3001.6 L1043.4,3001.5 L1046.3,3001.4 L1049.1,3001.2 L1052.0,3001.1 L1054.9,3001.0 L1057.7,3000.9 L1060.6,3000.8 L1063.4,3000.7 L1066.3,3000.6 L1069.2,3000.5 L1072.0,3000.4 L1074.9,3000.3 L1077.8,3000.3 L1080.6,3000.2 L1083.5,3000.1 L1086.4,3000.0 L1089.2,2999.9 L1092.1,2999.9 L1094.9,2999.8 L1097.8,2999.7 L1100.7,2999.7 L1103.5,2999.6 L1106.4,2999.5 L1109.3,2999.5 L1112.1,2999.4 L1115.0,2999.4 L1117.9,2999.3 L1120.7,2999.3 L1123.6,2999.2 L1126.5,2999.2 L1129.3,2999.1 L1132.2,2999.1 L1135.0,2999.0 L1137.9,2999.0 L1140.8,2999.0 L1143.6,2998.9 L1146.5,2998.9 L1149.4,2998.9 L1152.2,2998.8 L1155.1,2998.8 L1158.0,2998.8 L1160.8,2998.7 L1163.7,2998.7 L1166.6,2998.7 L1169.4,2998.6 L1172.3,2998.6 L1175.1,2998.6 L1178.0,2998.6 L1180.9,2998.5 L1183.7,2998.5 L1186.6,2998.5 L1189.5,2998.4 L1192.3,2998.4 L1195.2,2998.4 L1198.1,2998.4 L1200.9,2998.3 L1203.8,2998.3 L1206.7,2998.3 L1209.5,2998.3 L1212.4,2998.3 L1215.2,2998.2 L1218.1,2998.2 L1221.0,2998.2 L1223.8,2998.2 L1226.7,2998.1 L1229.6,2998.1 L1232.4,2998.1 L1235.3,2998.1 L1238.2,2998.1 L1241.0,2998.0 L1243.9,2998.0 L1246.7,2998.0 L1249.6,2998.0 L1252.5,2998.0 L1255.3,2997.9 L1258.2,2997.9 L1261.1,2997.9 L1263.9,2997.9 L1266.8,2997.9 L1269.7,2997.9 L1272.5,2997.8 L1275.4,2997.8 L1278.3,2997.8 L1281.1,2997.8 L1284.0,2997.8 L1286.8,2997.8 L1289.7,2997.7 L1292.6,2997.7 L1295.4,2997.7 L1298.3,2997.7 L1301.2,2997.7 L1304.0,2997.7 L1306.9,2997.7 L1309.8,2997.6 L1312.6,2997.6 L1315.5,2997.6 L1318.4,2997.6 L1321.2,2997.6 L1324.1,2997.6 L1326.9,2997.6 L1329.8,2997.6 L1332.7,2997.5 L1335.5,2997.5 L1338.4,2997.5 L1341.3,2997.5 L1344.1,2997.5 L1347.0,2997.5 L1349.9,2997.5 L1352.7,2997.5 L1355.6,2997.5 L1358.4,2997.5 L1361.3,2997.4 L1364.2,2997.4 L1367.0,2997.4 L1369.9,2997.4 L1372.8,2997.4 L1375.6,2997.4 L1378.5,2997.4 L1381.4,2997.4 L1384.2,2997.4 L1387.1,2997.4 L1390.0,2997.4 L1392.8,2997.4 L1395.7,2997.4 L1398.5,2997.3 L1401.4,2997.3 L1404.3,2997.3 L1407.1,2997.3 L1410.0,2997.3 L1412.9,2997.3 L1415.7,2997.3 L1418.6,2997.3 L1421.5,2997.3 L1424.3,2997.3 L1427.2,2997.3 L1430.1,2997.3 L1432.9,2997.3 L1435.8,2997.3 L1438.6,2997.3 L1441.5,2997.3 L1444.4,2997.3 L1447.2,2997.3 L1450.1,2997.3 L1453.0,2997.3 L1455.8,2997.3 L1458.7,2997.3 L1461.6,2997.3 L1464.4,2997.3 L1467.3,2997.3 L1470.1,2997.3 L1473.0,2997.2 L1475.9,2997.2 L1478.7,2997.2 L1481.6,2997.2 L1484.5,2997.2 L1487.3,2997.2 L1490.2,2997.2 L1493.1,2997.2 L1495.9,2997.2 L1498.8,2997.2 L1501.7,2997.2 L1504.5,2997.2 L1507.4,2997.2 L1510.2,2997.2 L1513.1,2997.2 L1516.0,2997.2 L1518.8,2997.2 L1521.7,2997.2 L1524.6,2997.2 L1527.4,2997.2 L1530.3,2997.2 L1533.2,2997.2 L1536.0,2997.2 L1538.9,2997.2 L1541.8,2997.2 L1544.6,2997.2 L1547.5,2997.3 L1550.3,2997.3 L1553.2,2997.3 L1556.1,2997.3 L1558.9,2997.3 L1561.8,2997.3 L1564.7,2997.3 L1567.5,2997.3 L1570.4,2997.3 L1573.3,2997.3 L1576.1,2997.3 L1579.0,2997.3 L1581.8,2997.3 L1584.7,2997.3 L1587.6,2997.3 L1590.4,2997.3 L1593.3,2997.3 L1596.2,2997.3 L1599.0,2997.3 L1601.9,2997.3 L1604.8,2997.3 L1607.6,2997.3 L1610.5,2997.3 L1613.4,2997.3 L1616.2,2997.3 L1619.1,2997.3 L1621.9,2997.3 L1624.8,2997.3 L1627.7,2997.3 L1630.5,2997.3 L1633.4,2997.3 L1636.3,2997.3 L1639.1,2997.3 L1642.0,2997.3 L1644.9,2997.3 L1647.7,2997.3 L1650.6,2997.4 L1653.5,2997.4 L1656.3,2997.4 L1659.2,2997.4 L1662.0,2997.4 L1664.9,2997.4 L1667.8,2997.4 L1670.6,2997.4 L1673.5,2997.4 L1676.4,2997.4 L1679.2,2997.4 L1682.1,2997.4 L1685.0,2997.4 L1687.8,2997.4 L1690.7,2997.4 L1693.5,2997.4 L1696.4,2997.4 L1699.3,2997.4 L1702.1,2997.4 L1705.0,2997.4 L1707.9,2997.4 L1710.7,2997.4 L1713.6,2997.4 L1716.5,2997.4 L1719.3,2997.4 L1722.2,2997.4 L1725.1,2997.5 L1727.9,2997.5 L1730.8,2997.5 L1733.6,2997.5 L1736.5,2997.5 L1739.4,2997.5 L1742.2,2997.5 L1745.1,2997.5 L1748.0,2997.5 L1750.8,2997.5 L1753.7,2997.5 L1756.6,2997.5 L1759.4,2997.5 L1762.3,2997.5 L1765.2,2997.5 L1768.0,2997.5 L1770.9,2997.5 L1773.7,2997.5 L1776.6,2997.5 L1779.5,2997.5 L1782.3,2997.5 L1785.2,2997.5 L1788.1,2997.5 L1790.9,2997.5 L1793.8,2997.5 L1796.7,2997.5 L1799.5,2997.5 L1802.4,2997.5 L1805.2,2997.5 L1808.1,2997.5 L1811.0,2997.5 L1813.8,2997.5 L1816.7,2997.6 L1819.6,2997.6 L1822.4,2997.6 L1825.3,2997.6 L1828.2,2997.6 L1831.0,2997.6 L1833.9,2997.6 L1836.8,2997.6 L1839.6,2997.6 L1842.5,2997.6 L1845.3,2997.6 L1848.2,2997.6 L1851.1,2997.6 L1853.9,2997.6 L1856.8,2997.6 L1859.7,2997.6 L1862.5,2997.6 L1865.4,2997.6 L1868.3,2997.6 L1871.1,2997.6 L1874.0,2997.6 L1876.9,2997.6 L1879.7,2997.6 L1882.6,2997.6 L1885.4,2997.6 L1888.3,2997.6 L1891.2,2997.6 L1894.0,2997.6 L1896.9,2997.6 L1899.8,2997.6 L1902.6,2997.6 L1905.5,2997.6 L1908.4,2997.6 L1911.2,2997.6 L1914.1,2997.6 L1916.9,2997.6 L1919.8,2997.6 L1922.7,2997.6 L1925.5,2997.5 L1928.4,2997.5 L1931.3,2997.5 L1934.1,2997.5 L1937.0,2997.5 L1939.9,2997.5 L1942.7,2997.5 L1945.6,2997.5 L1948.5,2997.5 L1951.3,2997.5 L1954.2,2997.5 L1957.0,2997.5 L1959.9,2997.5 L1962.8,2997.5 L1965.6,2997.5 L1968.5,2997.5 L1971.4,2997.5 L1974.2,2997.5 L1977.1,2997.5 L1980.0,2997.5 L1982.8,2997.5 L1985.7,2997.5 L1988.6,2997.4 L1991.4,2997.4 L1994.3,2997.4 L1997.1,2997.4 L2000.0,2997.4 L2002.9,2997.4 L2005.7,2997.4 L2008.6,2997.4"/>
<path class="c" stroke="#000000" stroke-width="7.5" d="M293.0,3115.0 L295.9,3114.8 L298.7,3114.5 L301.6,3114.3 L304.5,3114.0 L307.3,3113.8 L310.2,3113.6 L313.0,3113.3 L315.9,3113.1 L318.8,3112.9 L321.6,3112.6 L324.5,3112.4 L327.4,3112.2 L330.2,3111.9 L333.1,3111.7 L336.0,3111.4 L338.8,3111.2 L341.7,3111.0 L344.6,3110.7 L347.4,3110.5 L350.3,3110.2 L353.1,3110.0 L356.0,3109.7 L358.9,3109.5 L361.7,3109.2 L364.6,3109.0 L367.5,3108.7 L370.3,3108.4 L373.2,3108.2 L376.1,3107.9 L378.9,3107.6 L381.8,3107.4 L384.7,3107.1 L387.5,3106.8 L390.4,3106.5 L393.2,3106.2 L396.1,3106.0 L399.0,3105.7 L401.8,3105.4 L404.7,3105.1 L407.6,3104.8 L410.4,3104.5 L413.3,3104.1 L416.2,3103.8 L419.0,3103.5 L421.9,3103.2 L424.7,3102.8 L427.6,3102.5 L430.5,3102.2 L433.3,3101.8 L436.2,3101.5 L439.1,3101.1 L441.9,3100.7 L444.8,3100.4 L447.7,3100.0 L450.5,3099.6 L453.4,3099.2 L456.3,3098.8 L459.1,3098.4 L462.0,3098.0 L464.8,3097.6 L467.7,3097.2 L470.6,3096.7 L473.4,3096.3 L476.3,3095.8 L479.2,3095.4 L482.0,3094.9 L484.9,3094.5 L487.8,3094.0 L490.6,3093.5 L493.5,3093.0 L496.4,3092.5 L499.2,3092.0 L502.1,3091.5 L504.9,3091.0 L507.8,3090.4 L510.7,3089.9 L513.5,3089.3 L516.4,3088.8 L519.3,3088.2 L522.1,3087.6 L525.0,3087.0 L527.9,3086.4 L530.7,3085.8 L533.6,3085.2 L536.4,3084.6 L539.3,3083.9 L542.2,3083.3 L545.0,3082.6 L547.9,3082.0 L550.8,3081.3 L553.6,3080.6 L556.5,3079.9 L559.4,3079.2 L562.2,3078.5 L565.1,3077.7 L568.0,3077.0 L570.8,3076.2 L573.7,3075.5 L576.5,3074.7 L579.4,3073.9 L582.3,3073.1 L585.1,3072.3 L588.0,3071.5 L590.9,3070.7 L593.7,3069.8 L596.6,3069.0 L599.5,3068.1 L602.3,3067.3 L605.2,3066.4 L608.1,3065.5 L610.9,3064.6 L613.8,3063.7 L616.6,3062.7 L619.5,3061.8 L622.4,3060.9 L625.2,3059.9 L628.1,3058.9 L631.0,3057.9 L633.8,3056.9 L636.7,3055.9 L639.6,3054.9 L642.4,3053.9 L645.3,3052.8 L648.1,3051.8 L651.0,3050.7 L653.9,3049.6 L656.7,3048.6 L659.6,3047.5 L662.5,3046.3 L665.3,3045.2 L668.2,3044.1 L671.1,3042.9 L673.9,3041.8 L676.8,3040.6 L679.7,3039.4 L682.5,3038.2 L685.4,3037.0 L688.2,3035.8 L691.1,3034.5 L694.0,3033.3 L696.8,3032.0 L699.7,3030.7 L702.6,3029.4 L705.4,3028.1 L708.3,3026.8 L711.2,3025.5 L714.0,3024.2 L716.9,3022.8 L719.8,3021.4 L722.6,3020.1 L725.5,3018.7 L728.3,3017.3 L731.2,3015.8 L734.1,3014.4 L736.9,3013.0 L739.8,3011.5 L742.7,3010.0 L745.5,3008.6 L748.4,3007.1 L751.3,3005.6 L754.1,3004.0 L757.0,3002.5 L759.8,3001.0 L762.7,2999.4 L765.6,2997.8 L768.4,2996.2 L771.3,2994.7 L774.2,2993.0 L777.0,2991.4 L779.9,2989.8 L782.8,2988.2 L785.6,2986.5 L788.5,2984.8 L791.4,2983.2 L794.2,2981.5 L797.1,2979.8 L799.9,2978.1 L802.8,2976.4 L805.7,2974.6 L808.5,2972.9 L811.4,2971.1 L814.3,2969.4 L817.1,2967.6 L820.0,2965.8 L822.9,2964.0 L825.7,2962.2 L828.6,2960.4 L831.5,2958.6 L834.3,2956.8 L837.2,2954.9 L840.0,2953.1 L842.9,2951.2 L845.8,2949.3 L848.6,2947.4 L851.5,2945.6 L854.4,2943.7 L857.2,2941.7 L860.1,2939.8 L863.0,2937.9 L865.8,2936.0 L868.7,2934.0 L871.5,2932.1 L874.4,2930.1 L877.3,2928.1 L880.1,2926.2 L883.0,2924.2 L885.9,2922.2 L888.7,2920.2 L891.6,2918.2 L894.5,2916.2 L897.3,2914.1 L900.2,2912.1 L903.1,2910.1 L905.9,2908.0 L908.8,2906.0 L911.6,2903.9 L914.5,2901.8 L917.4,2899.8 L920.2,2897.7 L923.1,2895.6 L926.0,2893.5 L928.8,2891.4 L931.7,2889.3 L934.6,2887.1 L937.4,2885.0 L940.3,2882.9 L943.2,2880.8 L946.0,2878.6 L948.9,2876.5 L951.7,2874.3 L954.6,2872.2 L957.5,2870.0 L960.3,2867.8 L963.2,2865.6 L966.1,2863.5 L968.9,2861.3 L971.8,2859.1 L974.7,2856.9 L977.5,2854.7 L980.4,2852.5 L983.2,2850.3 L986.1,2848.0 L989.0,2845.8 L991.8,2843.6 L994.7,2841.4 L997.6,2839.1 L1000.4,2836.9 L1003.3,2834.6 L1006.2,2832.4 L1009.0,2830.1 L1011.9,2827.9 L1014.8,2825.6 L1017.6,2823.3 L1020.5,2821.0 L1023.3,2818.8 L1026.2,2816.5 L1029.1,2814.2 L1031.9,2811.9 L1034.8,2809.6 L1037.7,2807.3 L1040.5,2805.0 L1043.4,2802.7 L1046.3,2800.4 L1049.1,2798.1 L1052.0,2795.8 L1054.9,2793.5 L1057.7,2791.1 L1060.6,2788.8 L1063.4,2786.5 L1066.3,2784.1 L1069.2,2781.8 L1072.0,2779.5 L1074.9,2777.1 L1077.8,2774.8 L1080.6,2772.4 L1083.5,2770.1 L1086.4,2767.7 L1089.2,2765.4 L1092.1,2763.0 L1094.9,2760.6 L1097.8,2758.3 L1100.7,2755.9 L1103.5,2753.6 L1106.4,2751.2 L1109.3,2748.8 L1112.1,2746.4 L1115.0,2744.1 L1117.9,2741.7 L1120.7,2739.3 L1123.6,2736.9 L1126.5,2734.5 L1129.3,2732.1 L1132.2,2729.7 L1135.0,2727.4 L1137.9,2725.0 L1140.8,2722.6 L1143.6,2720.2 L1146.5,2717.8 L1149.4,2715.4 L1152.2,2713.0 L1155.1,2710.6 L1158.0,2708.2 L1160.8,2705.8 L1163.7,2703.4 L1166.6,2701.0 L1169.4,2698.6 L1172.3,2696.2 L1175.1,2693.7 L1178.0,2691.3 L1180.9,2688.9 L1183.7,2686.5 L1186.6,2684.1 L1189.5,2681.7 L1192.3,2679.3 L1195.2,2676.9 L1198.1,2674.5 L1200.9,2672.1 L1203.8,2669.6 L1206.7,2667.2 L1209.5,2664.8 L1212.4,2662.4 L1215.2,2660.0 L1218.1,2657.6 L1221.0,2655.1 L1223.8,2652.7 L1226.7,2650.3 L1229.6,2647.9 L1232.4,2645.5 L1235.3,2643.1 L1238.2,2640.6 L1241.0,2638.2 L1243.9,2635.8 L1246.7,2633.4 L1249.6,2631.0 L1252.5,2628.5 L1255.3,2626.1 L1258.2,2623.7 L1261.1,2621.3 L1263.9,2618.8 L1266.8,2616.4 L1269.7,2614.0 L1272.5,2611.6 L1275.4,2609.1 L1278.3,2606.7 L1281.1,2604.3 L1284.0,2601.9 L1286.8,2599.4 L1289.7,2597.0 L1292.6,2594.6 L1295.4,2592.2 L1298.3,2589.7 L1301.2,2587.3 L1304.0,2584.9 L1306.9,2582.4 L1309.8,2580.0 L1312.6,2577.6 L1315.5,2575.2 L1318.4,2572.7 L1321.2,2570.3 L1324.1,2567.9 L1326.9,2565.4 L1329.8,2563.0 L1332.7,2560.6 L1335.5,2558.1 L1338.4,2555.7 L1341.3,2553.3 L1344.1,2550.8 L1347.0,2548.4 L1349.9,2546.0 L1352.7,2543.5 L1355.6,2541.1 L1358.4,2538.7 L1361.3,2536.2 L1364.2,2533.8 L1367.0,2531.4 L1369.9,2528.9 L1372.8,2526.5 L1375.6,2524.0 L1378.5,2521.6 L1381.4,2519.2 L1384.2,2516.7 L1387.1,2514.3 L1390.0,2511.9 L1392.8,2509.4 L1395.7,2507.0 L1398.5,2504.6 L1401.4,2502.1 L1404.3,2499.7 L1407.1,2497.2 L1410.0,2494.8 L1412.9,2492.4 L1415.7,2489.9 L1418.6,2487.5 L1421.5,2485.0 L1424.3,2482.6 L1427.2,2480.2 L1430.1,2477.7 L1432.9,2475.3 L1435.8,2472.8 L1438.6,2470.4 L1441.5,2468.0 L1444.4,2465.5 L1447.2,2463.1 L1450.1,2460.6 L1453.0,2458.2 L1455.8,2455.8 L1458.7,2453.3 L1461.6,2450.9 L1464.4,2448.4 L1467.3,2446.0 L1470.1,2443.6 L1473.0,2441.1 L1475.9,2438.7 L1478.7,2436.2 L1481.6,2433.8 L1484.5,2431.4 L1487.3,2428.9 L1490.2,2426.5 L1493.1,2424.0 L1495.9,2421.6 L1498.8,2419.1 L1501.7,2416.7 L1504.5,2414.3 L1507.4,2411.8 L1510.2,2409.4 L1513.1,2406.9 L1516.0,2404.5 L1518.8,2402.1 L1521.7,2399.6 L1524.6,2397.2 L1527.4,2394.7 L1530.3,2392.3 L1533.2,2389.9 L1536.0,2387.4 L1538.9,2385.0 L1541.8,2382.5 L1544.6,2380.1 L1547.5,2377.6 L1550.3,2375.2 L1553.2,2372.8 L1556.1,2370.3 L1558.9,2367.9 L1561.8,2365.4 L1564.7,2363.0 L1567.5,2360.6 L1570.4,2358.1 L1573.3,2355.7 L1576.1,2353.2 L1579.0,2350.8 L1581.8,2348.4 L1584.7,2345.9 L1587.6,2343.5 L1590.4,2341.1 L1593.3,2338.6 L1596.2,2336.2 L1599.0,2333.7 L1601.9,2331.3 L1604.8,2328.9 L1607.6,2326.4 L1610.5,2324.0 L1613.4,2321.6 L1616.2,2319.1 L1619.1,2316.7 L1621.9,2314.2 L1624.8,2311.8 L1627.7,2309.4 L1630.5,2306.9 L1633.4,2304.5 L1636.3,2302.1 L1639.1,2299.6 L1642.0,2297.2 L1644.9,2294.8 L1647.7,2292.3 L1650.6,2289.9 L1653.5,2287.5 L1656.3,2285.0 L1659.2,2282.6 L1662.0,2280.2 L1664.9,2277.7 L1667.8,2275.3 L1670.6,2272.9 L1673.5,2270.4 L1676.4,2268.0 L1679.2,2265.6 L1682.1,2263.1 L1685.0,2260.7 L1687.8,2258.3 L1690.7,2255.9 L1693.5,2253.4 L1696.4,2251.0 L1699.3,2248.6 L1702.1,2246.1 L1705.0,2243.7 L1707.9,2241.3 L1710.7,2238.9 L1713.6,2236.4 L1716.5,2234.0 L1719.3,2231.6 L1722.2,2229.2 L1725.1,2226.7 L1727.9,2224.3 L1730.8,2221.9 L1733.6,2219.5 L1736.5,2217.0 L1739.4,2214.6 L1742.2,2212.2 L1745.1,2209.8 L1748.0,2207.3 L1750.8,2204.9 L1753.7,2202.5 L1756.6,2200.1 L1759.4,2197.7 L1762.3,2195.2 L1765.2,2192.8 L1768.0,2190.4 L1770.9,2188.0 L1773.7,2185.6 L1776.6,2183.2 L1779.5,2180.7 L1782.3,2178.3 L1785.2,2175.9 L1788.1,2173.5 L1790.9,2171.1 L1793.8,2168.7 L1796.7,2166.3 L1799.5,2163.8 L1802.4,2161.4 L1805.2,2159.0 L1808.1,2156.6 L1811.0,2154.2 L1813.8,2151.8 L1816.7,2149.4 L1819.6,2147.0 L1822.4,2144.6 L1825.3,2142.2 L1828.2,2139.8 L1831.0,2137.3 L1833.9,2134.9 L1836.8,2132.5 L1839.6,2130.1 L1842.5,2127.7 L1845.3,2125.3 L1848.2,2122.9 L1851.1,2120.5 L1853.9,2118.1 L1856.8,2115.7 L1859.7,2113.3 L1862.5,2110.9 L1865.4,2108.5 L1868.3,2106.1 L1871.1,2103.7 L1874.0,2101.3 L1876.9,2098.9 L1879.7,2096.5 L1882.6,2094.2 L1885.4,2091.8 L1888.3,2089.4 L1891.2,2087.0 L1894.0,2084.6 L1896.9,2082.2 L1899.8,2079.8 L1902.6,2077.4 L1905.5,2075.0 L1908.4,2072.6 L1911.2,2070.3 L1914.1,2067.9 L1916.9,2065.5 L1919.8,2063.1 L1922.7,2060.7 L1925.5,2058.3 L1928.4,2056.0 L1931.3,2053.6 L1934.1,2051.2 L1937.0,2048.8 L1939.9,2046.4 L1942.7,2044.1 L1945.6,2041.7 L1948.5,2039.3 L1951.3,2036.9 L1954.2,2034.6 L1957.0,2032.2 L1959.9,2029.8 L1962.8,2027.4 L1965.6,2025.1 L1968.5,2022.7 L1971.4,2020.3 L1974.2,2018.0 L1977.1,2015.6 L1980.0,2013.2 L1982.8,2010.9 L1985.7,2008.5 L1988.6,2006.1 L1991.4,2003.8 L1994.3,2001.4 L1997.1,1999.0 L2000.0,1996.7 L2002.9,1994.3 L2005.7,1992.0 L2008.6,1989.6"/>
<path class="c" stroke="#9400D3" stroke-width="7.5" d="M293.0,3115.0 L295.9,3115.0 L298.7,3114.9 L301.6,3114.9 L304.5,3114.9 L307.3,3114.8 L310.2,3114.8 L313.0,3114.8 L315.9,3114.7 L318.8,3114.7 L321.6,3114.7 L324.5,3114.7 L327.4,3114.7 L330.2,3114.6 L333.1,3114.6 L336.0,3114.6 L338.8,3114.6 L341.7,3114.6 L344.6,3114.6 L347.4,3114.5 L350.3,3114.5 L353.1,3114.5 L356.0,3114.5 L358.9,3114.5 L361.7,3114.5 L364.6,3114.5 L367.5,3114.5 L370.3,3114.5 L373.2,3114.5 L376.1,3114.4 L378.9,3114.4 L381.8,3114.4 L384.7,3114.4 L387.5,3114.4 L390.4,3114.4 L393.2,3114.4 L396.1,3114.4 L399.0,3114.3 L401.8,3114.3 L404.7,3114.3 L407.6,3114.3 L410.4,3114.3 L413.3,3114.2 L416.2,3114.2 L419.0,3114.2 L421.9,3114.1 L424.7,3114.1 L427.6,3114.1 L430.5,3114.0 L433.3,3114.0 L436.2,3114.0 L439.1,3113.9 L441.9,3113.9 L444.8,3113.8 L447.7,3113.8 L450.5,3113.7 L453.4,3113.7 L456.3,3113.6 L459.1,3113.5 L462.0,3113.5 L464.8,3113.4 L467.7,3113.3 L470.6,3113.2 L473.4,3113.1 L476.3,3113.1 L479.2,3113.0 L482.0,3112.9 L484.9,3112.8 L487.8,3112.7 L490.6,3112.6 L493.5,3112.4 L496.4,3112.3 L499.2,3112.2 L502.1,3112.1 L504.9,3111.9 L507.8,3111.8 L510.7,3111.7 L513.5,3111.5 L516.4,3111.4 L519.3,3111.2 L522.1,3111.0 L525.0,3110.9 L527.9,3110.7 L530.7,3110.5 L533.6,3110.3 L536.4,3110.1 L539.3,3109.9 L542.2,3109.7 L545.0,3109.5 L547.9,3109.3 L550.8,3109.0 L553.6,3108.8 L556.5,3108.6 L559.4,3108.3 L562.2,3108.1 L565.1,3107.8 L568.0,3107.5 L570.8,3107.3 L573.7,3107.0 L576.5,3106.7 L579.4,3106.4 L582.3,3106.1 L585.1,3105.8 L588.0,3105.4 L590.9,3105.1 L593.7,3104.8 L596.6,3104.4 L599.5,3104.1 L602.3,3103.7 L605.2,3103.3 L608.1,3102.9 L610.9,3102.6 L613.8,3102.2 L616.6,3101.7 L619.5,3101.3 L622.4,3100.9 L625.2,3100.5 L628.1,3100.0 L631.0,3099.5 L633.8,3099.1 L636.7,3098.6 L639.6,3098.1 L642.4,3097.6 L645.3,3097.1 L648.1,3096.6 L651.0,3096.0 L653.9,3095.5 L656.7,3094.9 L659.6,3094.3 L662.5,3093.8 L665.3,3093.2 L668.2,3092.5 L671.1,3091.9 L673.9,3091.3 L676.8,3090.6 L679.7,3090.0 L682.5,3089.3 L685.4,3088.6 L688.2,3087.9 L691.1,3087.1 L694.0,3086.4 L696.8,3085.6 L699.7,3084.9 L702.6,3084.1 L705.4,3083.3 L708.3,3082.5 L711.2,3081.6 L714.0,3080.8 L716.9,3079.9 L719.8,3079.0 L722.6,3078.1 L725.5,3077.2 L728.3,3076.2 L731.2,3075.3 L734.1,3074.3 L736.9,3073.3 L739.8,3072.3 L742.7,3071.3 L745.5,3070.2 L748.4,3069.2 L751.3,3068.1 L754.1,3067.0 L757.0,3065.9 L759.8,3064.7 L762.7,3063.6 L765.6,3062.4 L768.4,3061.2 L771.3,3060.0 L774.2,3058.8 L777.0,3057.6 L779.9,3056.3 L782.8,3055.1 L785.6,3053.8 L788.5,3052.5 L791.4,3051.2 L794.2,3049.9 L797.1,3048.5 L799.9,3047.2 L802.8,3045.8 L805.7,3044.4 L808.5,3043.0 L811.4,3041.6 L814.3,3040.2 L817.1,3038.7 L820.0,3037.3 L822.9,3035.8 L825.7,3034.3 L828.6,3032.8 L831.5,3031.3 L834.3,3029.8 L837.2,3028.2 L840.0,3026.7 L842.9,3025.1 L845.8,3023.5 L848.6,3021.9 L851.5,3020.3 L854.4,3018.7 L857.2,3017.1 L860.1,3015.4 L863.0,3013.8 L865.8,3012.1 L868.7,3010.4 L871.5,3008.7 L874.4,3007.0 L877.3,3005.3 L880.1,3003.6 L883.0,3001.8 L885.9,3000.1 L888.7,2998.3 L891.6,2996.5 L894.5,2994.7 L897.3,2993.0 L900.2,2991.1 L903.1,2989.3 L905.9,2987.5 L908.8,2985.7 L911.6,2983.8 L914.5,2982.0 L917.4,2980.1 L920.2,2978.2 L923.1,2976.3 L926.0,2974.4 L928.8,2972.5 L931.7,2970.6 L934.6,2968.7 L937.4,2966.7 L940.3,2964.8 L943.2,2962.8 L946.0,2960.8 L948.9,2958.9 L951.7,2956.9 L954.6,2954.9 L957.5,2952.9 L960.3,2950.9 L963.2,2948.8 L966.1,2946.8 L968.9,2944.8 L971.8,2942.7 L974.7,2940.7 L977.5,2938.6 L980.4,2936.5 L983.2,2934.4 L986.1,2932.3 L989.0,2930.2 L991.8,2928.1 L994.7,2926.0 L997.6,2923.9 L1000.4,2921.7 L1003.3,2919.6 L1006.2,2917.5 L1009.0,2915.3 L1011.9,2913.1 L1014.8,2911.0 L1017.6,2908.8 L1020.5,2906.6 L1023.3,2904.4 L1026.2,2902.2 L1029.1,2900.0 L1031.9,2897.8 L1034.8,2895.6 L1037.7,2893.3 L1040.5,2891.1 L1043.4,2888.9 L1046.3,2886.6 L1049.1,2884.3 L1052.0,2882.1 L1054.9,2879.8 L1057.7,2877.5 L1060.6,2875.3 L1063.4,2873.0 L1066.3,2870.7 L1069.2,2868.4 L1072.0,2866.1 L1074.9,2863.8 L1077.8,2861.5 L1080.6,2859.1 L1083.5,2856.8 L1086.4,2854.5 L1089.2,2852.1 L1092.1,2849.8 L1094.9,2847.4 L1097.8,2845.1 L1100.7,2842.7 L1103.5,2840.4 L1106.4,2838.0 L1109.3,2835.6 L1112.1,2833.2 L1115.0,2830.9 L1117.9,2828.5 L1120.7,2826.1 L1123.6,2823.7 L1126.5,2821.3 L1129.3,2818.9 L1132.2,2816.5 L1135.0,2814.1 L1137.9,2811.6 L1140.8,2809.2 L1143.6,2806.8 L1146.5,2804.4 L1149.4,2801.9 L1152.2,2799.5 L1155.1,2797.1 L1158.0,2794.6 L1160.8,2792.2 L1163.7,2789.7 L1166.6,2787.3 L1169.4,2784.8 L1172.3,2782.4 L1175.1,2779.9 L1178.0,2777.4 L1180.9,2775.0 L1183.7,2772.5 L1186.6,2770.0 L1189.5,2767.6 L1192.3,2765.1 L1195.2,2762.6 L1198.1,2760.1 L1200.9,2757.6 L1203.8,2755.2 L1206.7,2752.7 L1209.5,2750.2 L1212.4,2747.7 L1215.2,2745.2 L1218.1,2742.7 L1221.0,2740.2 L1223.8,2737.7 L1226.7,2735.2 L1229.6,2732.7 L1232.4,2730.2 L1235.3,2727.7 L1238.2,2725.2 L1241.0,2722.7 L1243.9,2720.2 L1246.7,2717.7 L1249.6,2715.2 L1252.5,2712.7 L1255.3,2710.2 L1258.2,2707.6 L1261.1,2705.1 L1263.9,2702.6 L1266.8,2700.1 L1269.7,2697.6 L1272.5,2695.1 L1275.4,2692.6 L1278.3,2690.1 L1281.1,2687.6 L1284.0,2685.1 L1286.8,2682.5 L1289.7,2680.0 L1292.6,2677.5 L1295.4,2675.0 L1298.3,2672.5 L1301.2,2670.0 L1304.0,2667.5 L1306.9,2665.0 L1309.8,2662.5 L1312.6,2660.0 L1315.5,2657.5 L1318.4,2654.9 L1321.2,2652.4 L1324.1,2649.9 L1326.9,2647.4 L1329.8,2644.9 L1332.7,2642.4 L1335.5,2639.9 L1338.4,2637.4 L1341.3,2634.9 L1344.1,2632.4 L1347.0,2629.9 L1349.9,2627.4 L1352.7,2624.9 L1355.6,2622.4 L1358.4,2619.9 L1361.3,2617.4 L1364.2,2614.9 L1367.0,2612.3 L1369.9,2609.8 L1372.8,2607.3 L1375.6,2604.8 L1378.5,2602.3 L1381.4,2599.8 L1384.2,2597.3 L1387.1,2594.8 L1390.0,2592.3 L1392.8,2589.8 L1395.7,2587.3 L1398.5,2584.8 L1401.4,2582.3 L1404.3,2579.8 L1407.1,2577.3 L1410.0,2574.8 L1412.9,2572.3 L1415.7,2569.8 L1418.6,2567.3 L1421.5,2564.8 L1424.3,2562.3 L1427.2,2559.8 L1430.1,2557.3 L1432.9,2554.8 L1435.8,2552.3 L1438.6,2549.8 L1441.5,2547.3 L1444.4,2544.8 L1447.2,2542.3 L1450.1,2539.8 L1453.0,2537.3 L1455.8,2534.8 L1458.7,2532.3 L1461.6,2529.8 L1464.4,2527.3 L1467.3,2524.8 L1470.1,2522.4 L1473.0,2519.9 L1475.9,2517.4 L1478.7,2514.9 L1481.6,2512.4 L1484.5,2509.9 L1487.3,2507.4 L1490.2,2504.9 L1493.1,2502.4 L1495.9,2499.9 L1498.8,2497.4 L1501.7,2494.9 L1504.5,2492.4 L1507.4,2489.9 L1510.2,2487.4 L1513.1,2485.0 L1516.0,2482.5 L1518.8,2480.0 L1521.7,2477.5 L1524.6,2475.0 L1527.4,2472.5 L1530.3,2470.0 L1533.2,2467.5 L1536.0,2465.0 L1538.9,2462.5 L1541.8,2460.1 L1544.6,2457.6 L1547.5,2455.1 L1550.3,2452.6 L1553.2,2450.1 L1556.1,2447.6 L1558.9,2445.1 L1561.8,2442.6 L1564.7,2440.2 L1567.5,2437.7 L1570.4,2435.2 L1573.3,2432.7 L1576.1,2430.2 L1579.0,2427.7 L1581.8,2425.3 L1584.7,2422.8 L1587.6,2420.3 L1590.4,2417.8 L1593.3,2415.3 L1596.2,2412.8 L1599.0,2410.4 L1601.9,2407.9 L1604.8,2405.4 L1607.6,2402.9 L1610.5,2400.4 L1613.4,2398.0 L1616.2,2395.5 L1619.1,2393.0 L1621.9,2390.5 L1624.8,2388.0 L1627.7,2385.6 L1630.5,2383.1 L1633.4,2380.6 L1636.3,2378.1 L1639.1,2375.6 L1642.0,2373.2 L1644.9,2370.7 L1647.7,2368.2 L1650.6,2365.7 L1653.5,2363.3 L1656.3,2360.8 L1659.2,2358.3 L1662.0,2355.8 L1664.9,2353.4 L1667.8,2350.9 L1670.6,2348.4 L1673.5,2346.0 L1676.4,2343.5 L1679.2,2341.0 L1682.1,2338.5 L1685.0,2336.1 L1687.8,2333.6 L1690.7,2331.1 L1693.5,2328.7 L1696.4,2326.2 L1699.3,2323.7 L1702.1,2321.2 L1705.0,2318.8 L1707.9,2316.3 L1710.7,2313.8 L1713.6,2311.4 L1716.5,2308.9 L1719.3,2306.4 L1722.2,2304.0 L1725.1,2301.5 L1727.9,2299.0 L1730.8,2296.6 L1733.6,2294.1 L1736.5,2291.6 L1739.4,2289.2 L1742.2,2286.7 L1745.1,2284.3 L1748.0,2281.8 L1750.8,2279.3 L1753.7,2276.9 L1756.6,2274.4 L1759.4,2272.0 L1762.3,2269.5 L1765.2,2267.0 L1768.0,2264.6 L1770.9,2262.1 L1773.7,2259.7 L1776.6,2257.2 L1779.5,2254.7 L1782.3,2252.3 L1785.2,2249.8 L1788.1,2247.4 L1790.9,2244.9 L1793.8,2242.5 L1796.7,2240.0 L1799.5,2237.5 L1802.4,2235.1 L1805.2,2232.6 L1808.1,2230.2 L1811.0,2227.7 L1813.8,2225.3 L1816.7,2222.8 L1819.6,2220.4 L1822.4,2217.9 L1825.3,2215.5 L1828.2,2213.0 L1831.0,2210.6 L1833.9,2208.1 L1836.8,2205.7 L1839.6,2203.2 L1842.5,2200.8 L1845.3,2198.3 L1848.2,2195.9 L1851.1,2193.4 L1853.9,2191.0 L1856.8,2188.5 L1859.7,2186.1 L1862.5,2183.6 L1865.4,2181.2 L1868.3,2178.8 L1871.1,2176.3 L1874.0,2173.9 L1876.9,2171.4 L1879.7,2169.0 L1882.6,2166.5 L1885.4,2164.1 L1888.3,2161.7 L1891.2,2159.2 L1894.0,2156.8 L1896.9,2154.3 L1899.8,2151.9 L1902.6,2149.5 L1905.5,2147.0 L1908.4,2144.6 L1911.2,2142.2 L1914.1,2139.7 L1916.9,2137.3 L1919.8,2134.8 L1922.7,2132.4 L1925.5,2130.0 L1928.4,2127.5 L1931.3,2125.1 L1934.1,2122.7 L1937.0,2120.2 L1939.9,2117.8 L1942.7,2115.4 L1945.6,2112.9 L1948.5,2110.5 L1951.3,2108.1 L1954.2,2105.7 L1957.0,2103.2 L1959.9,2100.8 L1962.8,2098.4 L1965.6,2095.9 L1968.5,2093.5 L1971.4,2091.1 L1974.2,2088.7 L1977.1,2086.2 L1980.0,2083.8 L1982.8,2081.4 L1985.7,2079.0 L1988.6,2076.5 L1991.4,2074.1 L1994.3,2071.7 L1997.1,2069.3 L2000.0,2066.9 L2002.9,2064.4 L2005.7,2062.0 L2008.6,2059.6"/>
<path class="c" stroke="#E69F00" stroke-width="7" d="M293.0,3115.0 L295.9,3114.9 L298.7,3114.9 L301.6,3114.8 L304.5,3114.7 L307.3,3114.7 L310.2,3114.6 L313.0,3114.6 L315.9,3114.5 L318.8,3114.4 L321.6,3114.4 L324.5,3114.3 L327.4,3114.2 L330.2,3114.1 L333.1,3114.1 L336.0,3114.0 L338.8,3113.9 L341.7,3113.9 L344.6,3113.8 L347.4,3113.7 L350.3,3113.6 L353.1,3113.6 L356.0,3113.5 L358.9,3113.4 L361.7,3113.3 L364.6,3113.3 L367.5,3113.2 L370.3,3113.1 L373.2,3113.0 L376.1,3113.0 L378.9,3112.9 L381.8,3112.8 L384.7,3112.7 L387.5,3112.6 L390.4,3112.6 L393.2,3112.5 L396.1,3112.4 L399.0,3112.3 L401.8,3112.2 L404.7,3112.1 L407.6,3112.1 L410.4,3112.0 L413.3,3111.9 L416.2,3111.8 L419.0,3111.7 L421.9,3111.6 L424.7,3111.5 L427.6,3111.5 L430.5,3111.4 L433.3,3111.3 L436.2,3111.2 L439.1,3111.1 L441.9,3111.0 L444.8,3110.9 L447.7,3110.8 L450.5,3110.8 L453.4,3110.7 L456.3,3110.6 L459.1,3110.5 L462.0,3110.4 L464.8,3110.3 L467.7,3110.2 L470.6,3110.1 L473.4,3110.0 L476.3,3109.9 L479.2,3109.8 L482.0,3109.7 L484.9,3109.6 L487.8,3109.6 L490.6,3109.5 L493.5,3109.4 L496.4,3109.3 L499.2,3109.2 L502.1,3109.1 L504.9,3109.0 L507.8,3108.9 L510.7,3108.8 L513.5,3108.7 L516.4,3108.6 L519.3,3108.5 L522.1,3108.4 L525.0,3108.3 L527.9,3108.2 L530.7,3108.1 L533.6,3108.0 L536.4,3107.9 L539.3,3107.8 L542.2,3107.7 L545.0,3107.6 L547.9,3107.5 L550.8,3107.4 L553.6,3107.3 L556.5,3107.2 L559.4,3107.1 L562.2,3107.0 L565.1,3106.9 L568.0,3106.8 L570.8,3106.7 L573.7,3106.6 L576.5,3106.5 L579.4,3106.4 L582.3,3106.3 L585.1,3106.2 L588.0,3106.1 L590.9,3106.0 L593.7,3105.9 L596.6,3105.8 L599.5,3105.7 L602.3,3105.6 L605.2,3105.5 L608.1,3105.4 L610.9,3105.3 L613.8,3105.2 L616.6,3105.1 L619.5,3105.0 L622.4,3104.9 L625.2,3104.8 L628.1,3104.7 L631.0,3104.6 L633.8,3104.5 L636.7,3104.4 L639.6,3104.3 L642.4,3104.2 L645.3,3104.1 L648.1,3104.0 L651.0,3103.9 L653.9,3103.8 L656.7,3103.7 L659.6,3103.6 L662.5,3103.4 L665.3,3103.3 L668.2,3103.2 L671.1,3103.1 L673.9,3103.0 L676.8,3102.9 L679.7,3102.8 L682.5,3102.7 L685.4,3102.6 L688.2,3102.5 L691.1,3102.4 L694.0,3102.3 L696.8,3102.2 L699.7,3102.1 L702.6,3102.0 L705.4,3101.9 L708.3,3101.8 L711.2,3101.7 L714.0,3101.6 L716.9,3101.5 L719.8,3101.4 L722.6,3101.3 L725.5,3101.2 L728.3,3101.1 L731.2,3101.0 L734.1,3100.9 L736.9,3100.8 L739.8,3100.7 L742.7,3100.6 L745.5,3100.5 L748.4,3100.4 L751.3,3100.3 L754.1,3100.2 L757.0,3100.1 L759.8,3100.0 L762.7,3099.9 L765.6,3099.8 L768.4,3099.7 L771.3,3099.6 L774.2,3099.5 L777.0,3099.4 L779.9,3099.3 L782.8,3099.2 L785.6,3099.1 L788.5,3099.0 L791.4,3098.9 L794.2,3098.9 L797.1,3098.8 L799.9,3098.7 L802.8,3098.6 L805.7,3098.5 L808.5,3098.4 L811.4,3098.3 L814.3,3098.2 L817.1,3098.1 L820.0,3098.0 L822.9,3097.9 L825.7,3097.8 L828.6,3097.7 L831.5,3097.6 L834.3,3097.5 L837.2,3097.5 L840.0,3097.4 L842.9,3097.3 L845.8,3097.2 L848.6,3097.1 L851.5,3097.0 L854.4,3096.9 L857.2,3096.8 L860.1,3096.7 L863.0,3096.7 L865.8,3096.6 L868.7,3096.5 L871.5,3096.4 L874.4,3096.3 L877.3,3096.2 L880.1,3096.1 L883.0,3096.0 L885.9,3096.0 L888.7,3095.9 L891.6,3095.8 L894.5,3095.7 L897.3,3095.6 L900.2,3095.6 L903.1,3095.5 L905.9,3095.4 L908.8,3095.3 L911.6,3095.2 L914.5,3095.1 L917.4,3095.1 L920.2,3095.0 L923.1,3094.9 L926.0,3094.8 L928.8,3094.8 L931.7,3094.7 L934.6,3094.6 L937.4,3094.5 L940.3,3094.5 L943.2,3094.4 L946.0,3094.3 L948.9,3094.2 L951.7,3094.2 L954.6,3094.1 L957.5,3094.0 L960.3,3093.9 L963.2,3093.9 L966.1,3093.8 L968.9,3093.7 L971.8,3093.7 L974.7,3093.6 L977.5,3093.5 L980.4,3093.5 L983.2,3093.4 L986.1,3093.3 L989.0,3093.3 L991.8,3093.2 L994.7,3093.1 L997.6,3093.1 L1000.4,3093.0 L1003.3,3093.0 L1006.2,3092.9 L1009.0,3092.8 L1011.9,3092.8 L1014.8,3092.7 L1017.6,3092.7 L1020.5,3092.6 L1023.3,3092.5 L1026.2,3092.5 L1029.1,3092.4 L1031.9,3092.4 L1034.8,3092.3 L1037.7,3092.3 L1040.5,3092.2 L1043.4,3092.2 L1046.3,3092.1 L1049.1,3092.1 L1052.0,3092.0 L1054.9,3092.0 L1057.7,3091.9 L1060.6,3091.9 L1063.4,3091.8 L1066.3,3091.8 L1069.2,3091.7 L1072.0,3091.7 L1074.9,3091.6 L1077.8,3091.6 L1080.6,3091.5 L1083.5,3091.5 L1086.4,3091.4 L1089.2,3091.4 L1092.1,3091.4 L1094.9,3091.3 L1097.8,3091.3 L1100.7,3091.2 L1103.5,3091.2 L1106.4,3091.2 L1109.3,3091.1 L1112.1,3091.1 L1115.0,3091.0 L1117.9,3091.0 L1120.7,3091.0 L1123.6,3090.9 L1126.5,3090.9 L1129.3,3090.9 L1132.2,3090.8 L1135.0,3090.8 L1137.9,3090.8 L1140.8,3090.7 L1143.6,3090.7 L1146.5,3090.7 L1149.4,3090.6 L1152.2,3090.6 L1155.1,3090.6 L1158.0,3090.5 L1160.8,3090.5 L1163.7,3090.5 L1166.6,3090.4 L1169.4,3090.4 L1172.3,3090.4 L1175.1,3090.3 L1178.0,3090.3 L1180.9,3090.3 L1183.7,3090.3 L1186.6,3090.2 L1189.5,3090.2 L1192.3,3090.2 L1195.2,3090.2 L1198.1,3090.1 L1200.9,3090.1 L1203.8,3090.1 L1206.7,3090.1 L1209.5,3090.0 L1212.4,3090.0 L1215.2,3090.0 L1218.1,3090.0 L1221.0,3089.9 L1223.8,3089.9 L1226.7,3089.9 L1229.6,3089.9 L1232.4,3089.9 L1235.3,3089.8 L1238.2,3089.8 L1241.0,3089.8 L1243.9,3089.8 L1246.7,3089.8 L1249.6,3089.7 L1252.5,3089.7 L1255.3,3089.7 L1258.2,3089.7 L1261.1,3089.7 L1263.9,3089.6 L1266.8,3089.6 L1269.7,3089.6 L1272.5,3089.6 L1275.4,3089.6 L1278.3,3089.6 L1281.1,3089.5 L1284.0,3089.5 L1286.8,3089.5 L1289.7,3089.5 L1292.6,3089.5 L1295.4,3089.5 L1298.3,3089.4 L1301.2,3089.4 L1304.0,3089.4 L1306.9,3089.4 L1309.8,3089.4 L1312.6,3089.4 L1315.5,3089.4 L1318.4,3089.4 L1321.2,3089.3 L1324.1,3089.3 L1326.9,3089.3 L1329.8,3089.3 L1332.7,3089.3 L1335.5,3089.3 L1338.4,3089.3 L1341.3,3089.2 L1344.1,3089.2 L1347.0,3089.2 L1349.9,3089.2 L1352.7,3089.2 L1355.6,3089.2 L1358.4,3089.2 L1361.3,3089.2 L1364.2,3089.2 L1367.0,3089.1 L1369.9,3089.1 L1372.8,3089.1 L1375.6,3089.1 L1378.5,3089.1 L1381.4,3089.1 L1384.2,3089.1 L1387.1,3089.1 L1390.0,3089.1 L1392.8,3089.1 L1395.7,3089.0 L1398.5,3089.0 L1401.4,3089.0 L1404.3,3089.0 L1407.1,3089.0 L1410.0,3089.0 L1412.9,3089.0 L1415.7,3089.0 L1418.6,3089.0 L1421.5,3089.0 L1424.3,3089.0 L1427.2,3089.0 L1430.1,3088.9 L1432.9,3088.9 L1435.8,3088.9 L1438.6,3088.9 L1441.5,3088.9 L1444.4,3088.9 L1447.2,3088.9 L1450.1,3088.9 L1453.0,3088.9 L1455.8,3088.9 L1458.7,3088.9 L1461.6,3088.9 L1464.4,3088.9 L1467.3,3088.9 L1470.1,3088.9 L1473.0,3088.8 L1475.9,3088.8 L1478.7,3088.8 L1481.6,3088.8 L1484.5,3088.8 L1487.3,3088.8 L1490.2,3088.8 L1493.1,3088.8 L1495.9,3088.8 L1498.8,3088.8 L1501.7,3088.8 L1504.5,3088.8 L1507.4,3088.8 L1510.2,3088.8 L1513.1,3088.8 L1516.0,3088.8 L1518.8,3088.8 L1521.7,3088.8 L1524.6,3088.8 L1527.4,3088.8 L1530.3,3088.8 L1533.2,3088.7 L1536.0,3088.7 L1538.9,3088.7 L1541.8,3088.7 L1544.6,3088.7 L1547.5,3088.7 L1550.3,3088.7 L1553.2,3088.7 L1556.1,3088.7 L1558.9,3088.7 L1561.8,3088.7 L1564.7,3088.7 L1567.5,3088.7 L1570.4,3088.7 L1573.3,3088.7 L1576.1,3088.7 L1579.0,3088.7 L1581.8,3088.7 L1584.7,3088.7 L1587.6,3088.7 L1590.4,3088.7 L1593.3,3088.7 L1596.2,3088.7 L1599.0,3088.7 L1601.9,3088.7 L1604.8,3088.7 L1607.6,3088.7 L1610.5,3088.7 L1613.4,3088.7 L1616.2,3088.7 L1619.1,3088.7 L1621.9,3088.7 L1624.8,3088.7 L1627.7,3088.7 L1630.5,3088.7 L1633.4,3088.7 L1636.3,3088.7 L1639.1,3088.7 L1642.0,3088.7 L1644.9,3088.7 L1647.7,3088.7 L1650.6,3088.7 L1653.5,3088.7 L1656.3,3088.7 L1659.2,3088.6 L1662.0,3088.6 L1664.9,3088.6 L1667.8,3088.6 L1670.6,3088.6 L1673.5,3088.6 L1676.4,3088.6 L1679.2,3088.6 L1682.1,3088.6 L1685.0,3088.6 L1687.8,3088.6 L1690.7,3088.6 L1693.5,3088.6 L1696.4,3088.6 L1699.3,3088.6 L1702.1,3088.6 L1705.0,3088.6 L1707.9,3088.6 L1710.7,3088.6 L1713.6,3088.6 L1716.5,3088.6 L1719.3,3088.6 L1722.2,3088.6 L1725.1,3088.6 L1727.9,3088.6 L1730.8,3088.6 L1733.6,3088.6 L1736.5,3088.6 L1739.4,3088.6 L1742.2,3088.6 L1745.1,3088.6 L1748.0,3088.6 L1750.8,3088.6 L1753.7,3088.6 L1756.6,3088.6 L1759.4,3088.6 L1762.3,3088.6 L1765.2,3088.6 L1768.0,3088.6 L1770.9,3088.6 L1773.7,3088.6 L1776.6,3088.6 L1779.5,3088.6 L1782.3,3088.6 L1785.2,3088.6 L1788.1,3088.6 L1790.9,3088.6 L1793.8,3088.6 L1796.7,3088.6 L1799.5,3088.6 L1802.4,3088.6 L1805.2,3088.6 L1808.1,3088.6 L1811.0,3088.6 L1813.8,3088.6 L1816.7,3088.6 L1819.6,3088.6 L1822.4,3088.6 L1825.3,3088.6 L1828.2,3088.6 L1831.0,3088.6 L1833.9,3088.6 L1836.8,3088.6 L1839.6,3088.6 L1842.5,3088.6 L1845.3,3088.6 L1848.2,3088.6 L1851.1,3088.6 L1853.9,3088.6 L1856.8,3088.6 L1859.7,3088.6 L1862.5,3088.6 L1865.4,3088.6 L1868.3,3088.6 L1871.1,3088.6 L1874.0,3088.6 L1876.9,3088.6 L1879.7,3088.6 L1882.6,3088.6 L1885.4,3088.6 L1888.3,3088.6 L1891.2,3088.6 L1894.0,3088.6 L1896.9,3088.6 L1899.8,3088.6 L1902.6,3088.5 L1905.5,3088.5 L1908.4,3088.5 L1911.2,3088.5 L1914.1,3088.5 L1916.9,3088.5 L1919.8,3088.5 L1922.7,3088.5 L1925.5,3088.5 L1928.4,3088.5 L1931.3,3088.5 L1934.1,3088.5 L1937.0,3088.5 L1939.9,3088.5 L1942.7,3088.5 L1945.6,3088.5 L1948.5,3088.5 L1951.3,3088.5 L1954.2,3088.5 L1957.0,3088.5 L1959.9,3088.5 L1962.8,3088.5 L1965.6,3088.5 L1968.5,3088.5 L1971.4,3088.5 L1974.2,3088.5 L1977.1,3088.5 L1980.0,3088.5 L1982.8,3088.4 L1985.7,3088.4 L1988.6,3088.4 L1991.4,3088.4 L1994.3,3088.4 L1997.1,3088.4 L2000.0,3088.4 L2002.9,3088.4 L2005.7,3088.4 L2008.6,3088.4"/>
<path class="c" stroke="#F0E442" stroke-width="7" d="M842,1915.5 H1000"/>
<path class="c" stroke="#0072B2" stroke-width="7" d="M842,1972.7 H1000"/>
<path class="c" stroke="#E51E10" stroke-width="7" d="M842,2029.9 H1000"/>
<path class="c" stroke="#000000" stroke-width="7" d="M842,2087.1 H1000"/>
<path class="c" stroke="#9400D3" stroke-width="7" d="M842,2144.3 H1000"/>
<path class="c" stroke="#E69F00" stroke-width="7" d="M842,2201.5 H1000"/>
<text x="808.5" y="1933.5" font-size="57.3" text-anchor="end">Polyp at Ribos</text>
<text x="808.5" y="1990.7" font-size="57.3" text-anchor="end">WebP at Ribos</text>
<text x="808.5" y="2047.9" font-size="57.3" text-anchor="end">NS5a at ER</text>
<text x="808.5" y="2105.1" font-size="57.3" text-anchor="end">Web in MW</text>
<text x="808.5" y="2162.3" font-size="57.3" text-anchor="end">NS5a in MW</text>
<text x="808.5" y="2219.5" font-size="57.3" text-anchor="end">Repli in MW</text>
<rect x="293.0" y="1867.0" width="1906.0" height="1248.0" fill="none" stroke="#000" stroke-width="4"/>
<text x="301.0" y="3191" font-size="57.3" text-anchor="middle">0</text>
<text x="618.7" y="3191" font-size="57.3" text-anchor="middle">5000</text>
<text x="936.3" y="3191" font-size="57.3" text-anchor="middle">10000</text>
<text x="1254.0" y="3191" font-size="57.3" text-anchor="middle">15000</text>
<text x="1571.7" y="3191" font-size="57.3" text-anchor="middle">20000</text>
<text x="1889.3" y="3191" font-size="57.3" text-anchor="middle">25000</text>
<text x="2207.0" y="3191" font-size="57.3" text-anchor="middle">30000</text>
<text x="258" y="3134.0" font-size="57.3" text-anchor="end">0</text>
<text x="258" y="2955.7" font-size="57.3" text-anchor="end">50</text>
<text x="258" y="2777.4" font-size="57.3" text-anchor="end">100</text>
<text x="258" y="2599.1" font-size="57.3" text-anchor="end">150</text>
<text x="258" y="2420.9" font-size="57.3" text-anchor="end">200</text>
<text x="258" y="2242.6" font-size="57.3" text-anchor="end">250</text>
<text x="258" y="2064.3" font-size="57.3" text-anchor="end">300</text>
<text x="258" y="1886.0" font-size="57.3" text-anchor="end">350</text>
<text x="1246" y="1800" font-size="57.3" text-anchor="middle">Total amount of nonstructural protein forms</text>
<text x="1245.6" y="3277" font-size="57.3" text-anchor="middle">time [s]</text>
<text font-size="57.3" text-anchor="middle" transform="translate(86.5,2490) rotate(-90)">total amount</text>
</g>
<g id="captionB">
<text class="cap" font-size="85" transform="translate(893.74,3415.3) scale(0.9533,1)">(<tspan font-weight="bold">B</tspan>)</text>
<text class="cap" font-size="85" transform="translate(1022.79,3415.3) scale(1.0567,1)">NSP</text>
<text class="cap" font-size="85" transform="translate(1206.94,3415.3) scale(1.0785,1)">forms</text>
</g>
</svg></body></html>
